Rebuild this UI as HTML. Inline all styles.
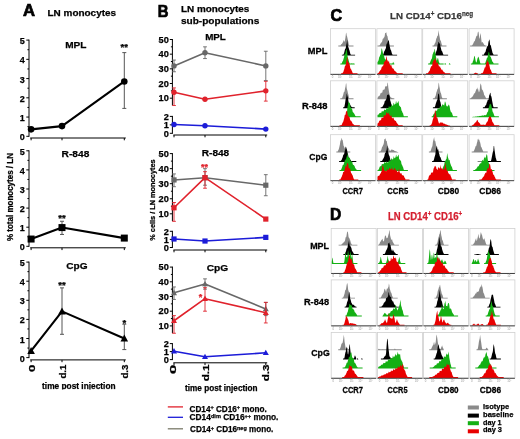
<!DOCTYPE html>
<html><head><meta charset="utf-8"><style>
html,body{margin:0;padding:0;background:#fff;width:520px;height:439px;overflow:hidden}
svg{display:block} #w{will-change:transform;width:520px;height:439px}
text{font-family:"Liberation Sans", sans-serif}
</style></head><body><div id="w"><svg width="520" height="439" viewBox="0 0 520 439" font-family='"Liberation Sans", sans-serif'><text x="23.12" y="16.20" font-size="15.8" fill="#000" stroke="#000" stroke-width="0.7" font-weight="bold" textLength="12.06" lengthAdjust="spacingAndGlyphs" >A</text>
<text x="47.54" y="16.10" font-size="9.6" fill="#000" stroke="#000" stroke-width="0.25" font-weight="bold" textLength="68.52" lengthAdjust="spacingAndGlyphs" >LN monocytes</text>
<line x1="29.00" y1="136.80" x2="29.00" y2="39.60" stroke="#000" stroke-width="1" />
<line x1="26.30" y1="136.30" x2="29.00" y2="136.30" stroke="#000" stroke-width="1" />
<text x="24.70" y="140.30" font-size="9" text-anchor="end" fill="#000" stroke="#000" stroke-width="0.25" font-weight="bold" >0</text>
<line x1="26.30" y1="117.06" x2="29.00" y2="117.06" stroke="#000" stroke-width="1" />
<text x="24.70" y="121.06" font-size="9" text-anchor="end" fill="#000" stroke="#000" stroke-width="0.25" font-weight="bold" >1</text>
<line x1="26.30" y1="97.82" x2="29.00" y2="97.82" stroke="#000" stroke-width="1" />
<text x="24.70" y="101.82" font-size="9" text-anchor="end" fill="#000" stroke="#000" stroke-width="0.25" font-weight="bold" >2</text>
<line x1="26.30" y1="78.58" x2="29.00" y2="78.58" stroke="#000" stroke-width="1" />
<text x="24.70" y="82.58" font-size="9" text-anchor="end" fill="#000" stroke="#000" stroke-width="0.25" font-weight="bold" >3</text>
<line x1="26.30" y1="59.34" x2="29.00" y2="59.34" stroke="#000" stroke-width="1" />
<text x="24.70" y="63.34" font-size="9" text-anchor="end" fill="#000" stroke="#000" stroke-width="0.25" font-weight="bold" >4</text>
<line x1="26.30" y1="40.10" x2="29.00" y2="40.10" stroke="#000" stroke-width="1" />
<text x="24.70" y="44.10" font-size="9" text-anchor="end" fill="#000" stroke="#000" stroke-width="0.25" font-weight="bold" >5</text>
<line x1="27.40" y1="126.68" x2="29.00" y2="126.68" stroke="#000" stroke-width="1" />
<line x1="27.40" y1="107.44" x2="29.00" y2="107.44" stroke="#000" stroke-width="1" />
<line x1="27.40" y1="88.20" x2="29.00" y2="88.20" stroke="#000" stroke-width="1" />
<line x1="27.40" y1="68.96" x2="29.00" y2="68.96" stroke="#000" stroke-width="1" />
<line x1="27.40" y1="49.72" x2="29.00" y2="49.72" stroke="#000" stroke-width="1" />
<line x1="30.20" y1="138.00" x2="125.80" y2="138.00" stroke="#000" stroke-width="1" />
<line x1="31.10" y1="138.00" x2="31.10" y2="140.30" stroke="#000" stroke-width="1" />
<line x1="62.00" y1="138.00" x2="62.00" y2="140.30" stroke="#000" stroke-width="1" />
<line x1="124.30" y1="138.00" x2="124.30" y2="140.30" stroke="#000" stroke-width="1" />
<line x1="124.30" y1="52.61" x2="124.30" y2="108.40" stroke="#555" stroke-width="1" />
<line x1="122.30" y1="52.61" x2="126.30" y2="52.61" stroke="#555" stroke-width="1" />
<line x1="122.30" y1="108.40" x2="126.30" y2="108.40" stroke="#555" stroke-width="1" />
<polyline points="31.10,129.37 62.00,126.10 124.30,81.47" fill="none" stroke="#000" stroke-width="2.1" stroke-linejoin="round"/>
<circle cx="31.10" cy="129.37" r="3.3" fill="#000"/>
<circle cx="62.00" cy="126.10" r="3.3" fill="#000"/>
<circle cx="124.30" cy="81.47" r="3.3" fill="#000"/>
<text x="124.30" y="50.21" font-size="9.5" text-anchor="middle" fill="#000" stroke="#000" stroke-width="0.25" font-weight="bold" >**</text>
<text x="65.23" y="47.70" font-size="9.8" fill="#000" stroke="#000" stroke-width="0.25" font-weight="bold" textLength="21.23" lengthAdjust="spacingAndGlyphs" >MPL</text>
<line x1="29.00" y1="246.80" x2="29.00" y2="150.30" stroke="#000" stroke-width="1" />
<line x1="26.30" y1="246.30" x2="29.00" y2="246.30" stroke="#000" stroke-width="1" />
<text x="24.70" y="250.30" font-size="9" text-anchor="end" fill="#000" stroke="#000" stroke-width="0.25" font-weight="bold" >0</text>
<line x1="26.30" y1="227.20" x2="29.00" y2="227.20" stroke="#000" stroke-width="1" />
<text x="24.70" y="231.20" font-size="9" text-anchor="end" fill="#000" stroke="#000" stroke-width="0.25" font-weight="bold" >1</text>
<line x1="26.30" y1="208.10" x2="29.00" y2="208.10" stroke="#000" stroke-width="1" />
<text x="24.70" y="212.10" font-size="9" text-anchor="end" fill="#000" stroke="#000" stroke-width="0.25" font-weight="bold" >2</text>
<line x1="26.30" y1="189.00" x2="29.00" y2="189.00" stroke="#000" stroke-width="1" />
<text x="24.70" y="193.00" font-size="9" text-anchor="end" fill="#000" stroke="#000" stroke-width="0.25" font-weight="bold" >3</text>
<line x1="26.30" y1="169.90" x2="29.00" y2="169.90" stroke="#000" stroke-width="1" />
<text x="24.70" y="173.90" font-size="9" text-anchor="end" fill="#000" stroke="#000" stroke-width="0.25" font-weight="bold" >4</text>
<line x1="26.30" y1="150.80" x2="29.00" y2="150.80" stroke="#000" stroke-width="1" />
<text x="24.70" y="154.80" font-size="9" text-anchor="end" fill="#000" stroke="#000" stroke-width="0.25" font-weight="bold" >5</text>
<line x1="27.40" y1="236.75" x2="29.00" y2="236.75" stroke="#000" stroke-width="1" />
<line x1="27.40" y1="217.65" x2="29.00" y2="217.65" stroke="#000" stroke-width="1" />
<line x1="27.40" y1="198.55" x2="29.00" y2="198.55" stroke="#000" stroke-width="1" />
<line x1="27.40" y1="179.45" x2="29.00" y2="179.45" stroke="#000" stroke-width="1" />
<line x1="27.40" y1="160.35" x2="29.00" y2="160.35" stroke="#000" stroke-width="1" />
<line x1="30.20" y1="247.80" x2="125.80" y2="247.80" stroke="#000" stroke-width="1" />
<line x1="31.10" y1="247.80" x2="31.10" y2="250.10" stroke="#000" stroke-width="1" />
<line x1="62.00" y1="247.80" x2="62.00" y2="250.10" stroke="#000" stroke-width="1" />
<line x1="124.30" y1="247.80" x2="124.30" y2="250.10" stroke="#000" stroke-width="1" />
<line x1="62.00" y1="221.28" x2="62.00" y2="234.46" stroke="#555" stroke-width="1" />
<line x1="60.00" y1="221.28" x2="64.00" y2="221.28" stroke="#555" stroke-width="1" />
<line x1="60.00" y1="234.46" x2="64.00" y2="234.46" stroke="#555" stroke-width="1" />
<polyline points="31.10,239.04 62.00,227.58 124.30,238.09" fill="none" stroke="#000" stroke-width="2.1" stroke-linejoin="round"/>
<rect x="27.60" y="235.54" width="7" height="7" fill="#000"/>
<rect x="58.50" y="224.08" width="7" height="7" fill="#000"/>
<rect x="120.80" y="234.59" width="7" height="7" fill="#000"/>
<text x="62.00" y="221.01" font-size="9.5" text-anchor="middle" fill="#000" stroke="#000" stroke-width="0.25" font-weight="bold" >**</text>
<text x="61.63" y="157.00" font-size="9.9" fill="#000" stroke="#000" stroke-width="0.25" font-weight="bold" textLength="27.74" lengthAdjust="spacingAndGlyphs" >R-848</text>
<line x1="29.00" y1="358.10" x2="29.00" y2="261.60" stroke="#000" stroke-width="1" />
<line x1="26.30" y1="357.60" x2="29.00" y2="357.60" stroke="#000" stroke-width="1" />
<text x="24.70" y="361.60" font-size="9" text-anchor="end" fill="#000" stroke="#000" stroke-width="0.25" font-weight="bold" >0</text>
<line x1="26.30" y1="338.50" x2="29.00" y2="338.50" stroke="#000" stroke-width="1" />
<text x="24.70" y="342.50" font-size="9" text-anchor="end" fill="#000" stroke="#000" stroke-width="0.25" font-weight="bold" >1</text>
<line x1="26.30" y1="319.40" x2="29.00" y2="319.40" stroke="#000" stroke-width="1" />
<text x="24.70" y="323.40" font-size="9" text-anchor="end" fill="#000" stroke="#000" stroke-width="0.25" font-weight="bold" >2</text>
<line x1="26.30" y1="300.30" x2="29.00" y2="300.30" stroke="#000" stroke-width="1" />
<text x="24.70" y="304.30" font-size="9" text-anchor="end" fill="#000" stroke="#000" stroke-width="0.25" font-weight="bold" >3</text>
<line x1="26.30" y1="281.20" x2="29.00" y2="281.20" stroke="#000" stroke-width="1" />
<text x="24.70" y="285.20" font-size="9" text-anchor="end" fill="#000" stroke="#000" stroke-width="0.25" font-weight="bold" >4</text>
<line x1="26.30" y1="262.10" x2="29.00" y2="262.10" stroke="#000" stroke-width="1" />
<text x="24.70" y="266.10" font-size="9" text-anchor="end" fill="#000" stroke="#000" stroke-width="0.25" font-weight="bold" >5</text>
<line x1="27.40" y1="348.05" x2="29.00" y2="348.05" stroke="#000" stroke-width="1" />
<line x1="27.40" y1="328.95" x2="29.00" y2="328.95" stroke="#000" stroke-width="1" />
<line x1="27.40" y1="309.85" x2="29.00" y2="309.85" stroke="#000" stroke-width="1" />
<line x1="27.40" y1="290.75" x2="29.00" y2="290.75" stroke="#000" stroke-width="1" />
<line x1="27.40" y1="271.65" x2="29.00" y2="271.65" stroke="#000" stroke-width="1" />
<line x1="30.20" y1="359.90" x2="125.80" y2="359.90" stroke="#000" stroke-width="1" />
<line x1="31.10" y1="359.90" x2="31.10" y2="362.20" stroke="#000" stroke-width="1" />
<line x1="62.00" y1="359.90" x2="62.00" y2="362.20" stroke="#000" stroke-width="1" />
<line x1="124.30" y1="359.90" x2="124.30" y2="362.20" stroke="#000" stroke-width="1" />
<line x1="62.00" y1="287.88" x2="62.00" y2="334.30" stroke="#555" stroke-width="1" />
<line x1="60.00" y1="287.88" x2="64.00" y2="287.88" stroke="#555" stroke-width="1" />
<line x1="60.00" y1="334.30" x2="64.00" y2="334.30" stroke="#555" stroke-width="1" />
<line x1="124.30" y1="324.18" x2="124.30" y2="349.58" stroke="#555" stroke-width="1" />
<line x1="122.30" y1="324.18" x2="126.30" y2="324.18" stroke="#555" stroke-width="1" />
<line x1="122.30" y1="349.58" x2="126.30" y2="349.58" stroke="#555" stroke-width="1" />
<polyline points="31.10,350.92 62.00,311.38 124.30,338.50" fill="none" stroke="#000" stroke-width="2.1" stroke-linejoin="round"/>
<polygon points="27.30,353.92 34.90,353.92 31.10,347.02" fill="#000"/>
<polygon points="58.20,314.38 65.80,314.38 62.00,307.48" fill="#000"/>
<polygon points="120.50,341.50 128.10,341.50 124.30,334.60" fill="#000"/>
<text x="62.00" y="287.71" font-size="9.5" text-anchor="middle" fill="#000" stroke="#000" stroke-width="0.25" font-weight="bold" >**</text>
<text x="124.30" y="326.01" font-size="9.5" text-anchor="middle" fill="#000" stroke="#000" stroke-width="0.25" font-weight="bold" >*</text>
<text x="66.23" y="269.20" font-size="9.9" fill="#000" stroke="#000" stroke-width="0.25" font-weight="bold" textLength="21.34" lengthAdjust="spacingAndGlyphs" >CpG</text>
<text x="0" y="0" font-size="8.3" fill="#000" stroke="#000" stroke-width="0.25" font-weight="bold" textLength="87.96" lengthAdjust="spacingAndGlyphs" transform="translate(12.60,241.03) rotate(-90)">% total monocytes / LN</text>
<text x="0" y="0" font-size="9.2" fill="#000" stroke="#000" stroke-width="0.25" font-weight="bold" textLength="7.34" lengthAdjust="spacingAndGlyphs" transform="translate(35.00,371.97) rotate(-90)">0</text>
<text x="0" y="0" font-size="9.2" fill="#000" stroke="#000" stroke-width="0.25" font-weight="bold" textLength="13.94" lengthAdjust="spacingAndGlyphs" transform="translate(65.80,378.57) rotate(-90)">d.1</text>
<text x="0" y="0" font-size="9.2" fill="#000" stroke="#000" stroke-width="0.25" font-weight="bold" textLength="13.94" lengthAdjust="spacingAndGlyphs" transform="translate(127.90,378.57) rotate(-90)">d.3</text>
<clipPath id="ca"><rect x="0" y="370" width="150" height="19.6"/></clipPath>
<g clip-path="url(#ca)">
<text x="42.09" y="389.30" font-size="8.4" fill="#000" stroke="#000" stroke-width="0.25" font-weight="bold" textLength="73.52" lengthAdjust="spacingAndGlyphs" >time post injection</text>
</g>
<text x="157.72" y="17.20" font-size="15.8" fill="#000" stroke="#000" stroke-width="0.7" font-weight="bold" textLength="10.76" lengthAdjust="spacingAndGlyphs" >B</text>
<text x="180.94" y="11.70" font-size="9.6" fill="#000" stroke="#000" stroke-width="0.25" font-weight="bold" textLength="68.32" lengthAdjust="spacingAndGlyphs" >LN monocytes</text>
<text x="180.93" y="23.70" font-size="9.9" fill="#000" stroke="#000" stroke-width="0.25" font-weight="bold" textLength="78.44" lengthAdjust="spacingAndGlyphs" >sub-populations</text>
<line x1="172.40" y1="39.00" x2="172.40" y2="105.38" stroke="#000" stroke-width="1" />
<line x1="169.80" y1="39.50" x2="172.40" y2="39.50" stroke="#000" stroke-width="1" />
<text x="168.80" y="42.70" font-size="9.2" text-anchor="end" fill="#000" stroke="#000" stroke-width="0.25" font-weight="bold" >50</text>
<line x1="169.80" y1="54.17" x2="172.40" y2="54.17" stroke="#000" stroke-width="1" />
<text x="168.80" y="57.37" font-size="9.2" text-anchor="end" fill="#000" stroke="#000" stroke-width="0.25" font-weight="bold" >40</text>
<line x1="169.80" y1="68.84" x2="172.40" y2="68.84" stroke="#000" stroke-width="1" />
<text x="168.80" y="72.04" font-size="9.2" text-anchor="end" fill="#000" stroke="#000" stroke-width="0.25" font-weight="bold" >30</text>
<line x1="169.80" y1="83.51" x2="172.40" y2="83.51" stroke="#000" stroke-width="1" />
<text x="168.80" y="86.71" font-size="9.2" text-anchor="end" fill="#000" stroke="#000" stroke-width="0.25" font-weight="bold" >20</text>
<line x1="169.80" y1="98.18" x2="172.40" y2="98.18" stroke="#000" stroke-width="1" />
<text x="168.80" y="101.38" font-size="9.2" text-anchor="end" fill="#000" stroke="#000" stroke-width="0.25" font-weight="bold" >10</text>
<line x1="170.90" y1="46.84" x2="172.40" y2="46.84" stroke="#000" stroke-width="1" />
<line x1="170.90" y1="61.50" x2="172.40" y2="61.50" stroke="#000" stroke-width="1" />
<line x1="170.90" y1="76.17" x2="172.40" y2="76.17" stroke="#000" stroke-width="1" />
<line x1="170.90" y1="90.84" x2="172.40" y2="90.84" stroke="#000" stroke-width="1" />
<line x1="172.40" y1="133.80" x2="172.40" y2="115.90" stroke="#000" stroke-width="1" />
<line x1="169.80" y1="133.30" x2="172.40" y2="133.30" stroke="#000" stroke-width="1" />
<text x="168.80" y="136.50" font-size="9.2" text-anchor="end" fill="#000" stroke="#000" stroke-width="0.25" font-weight="bold" >0</text>
<line x1="169.80" y1="124.85" x2="172.40" y2="124.85" stroke="#000" stroke-width="1" />
<text x="168.80" y="128.05" font-size="9.2" text-anchor="end" fill="#000" stroke="#000" stroke-width="0.25" font-weight="bold" >1</text>
<line x1="169.80" y1="116.40" x2="172.40" y2="116.40" stroke="#000" stroke-width="1" />
<text x="168.80" y="119.60" font-size="9.2" text-anchor="end" fill="#000" stroke="#000" stroke-width="0.25" font-weight="bold" >2</text>
<line x1="173.40" y1="135.00" x2="267.20" y2="135.00" stroke="#000" stroke-width="1" />
<line x1="174.00" y1="135.00" x2="174.00" y2="137.30" stroke="#000" stroke-width="1" />
<line x1="205.00" y1="135.00" x2="205.00" y2="137.30" stroke="#000" stroke-width="1" />
<line x1="265.80" y1="135.00" x2="265.80" y2="137.30" stroke="#000" stroke-width="1" />
<line x1="174.00" y1="60.04" x2="174.00" y2="71.77" stroke="#686868" stroke-width="0.9" />
<line x1="172.10" y1="60.04" x2="175.90" y2="60.04" stroke="#686868" stroke-width="0.9" />
<line x1="172.10" y1="71.77" x2="175.90" y2="71.77" stroke="#686868" stroke-width="0.9" />
<line x1="205.00" y1="46.84" x2="205.00" y2="58.57" stroke="#686868" stroke-width="0.9" />
<line x1="203.10" y1="46.84" x2="206.90" y2="46.84" stroke="#686868" stroke-width="0.9" />
<line x1="203.10" y1="58.57" x2="206.90" y2="58.57" stroke="#686868" stroke-width="0.9" />
<line x1="265.80" y1="51.24" x2="265.80" y2="80.58" stroke="#686868" stroke-width="0.9" />
<line x1="263.90" y1="51.24" x2="267.70" y2="51.24" stroke="#686868" stroke-width="0.9" />
<line x1="263.90" y1="80.58" x2="267.70" y2="80.58" stroke="#686868" stroke-width="0.9" />
<polyline points="174.00,65.91 205.00,52.70 265.80,65.91" fill="none" stroke="#686868" stroke-width="1.6" stroke-linejoin="round"/>
<circle cx="174.00" cy="65.91" r="2.7" fill="#686868"/>
<circle cx="205.00" cy="52.70" r="2.7" fill="#686868"/>
<circle cx="265.80" cy="65.91" r="2.7" fill="#686868"/>
<line x1="174.00" y1="87.91" x2="174.00" y2="105.52" stroke="#e0222c" stroke-width="0.9" />
<line x1="172.10" y1="87.91" x2="175.90" y2="87.91" stroke="#e0222c" stroke-width="0.9" />
<line x1="172.10" y1="105.52" x2="175.90" y2="105.52" stroke="#e0222c" stroke-width="0.9" />
<line x1="265.80" y1="81.31" x2="265.80" y2="101.11" stroke="#e0222c" stroke-width="0.9" />
<line x1="263.90" y1="81.31" x2="267.70" y2="81.31" stroke="#e0222c" stroke-width="0.9" />
<line x1="263.90" y1="101.11" x2="267.70" y2="101.11" stroke="#e0222c" stroke-width="0.9" />
<polyline points="174.00,92.31 205.00,99.21 265.80,90.85" fill="none" stroke="#e0222c" stroke-width="1.6" stroke-linejoin="round"/>
<circle cx="174.00" cy="92.31" r="2.7" fill="#e0222c"/>
<circle cx="205.00" cy="99.21" r="2.7" fill="#e0222c"/>
<circle cx="265.80" cy="90.85" r="2.7" fill="#e0222c"/>
<polyline points="174.00,124.43 205.00,125.70 265.80,129.08" fill="none" stroke="#1c1cd8" stroke-width="1.6" stroke-linejoin="round"/>
<circle cx="174.00" cy="124.43" r="2.7" fill="#1c1cd8"/>
<circle cx="205.00" cy="125.70" r="2.7" fill="#1c1cd8"/>
<circle cx="265.80" cy="129.08" r="2.7" fill="#1c1cd8"/>
<text x="205.13" y="40.00" font-size="9.8" fill="#000" stroke="#000" stroke-width="0.25" font-weight="bold" textLength="20.73" lengthAdjust="spacingAndGlyphs" >MPL</text>
<line x1="172.40" y1="153.10" x2="172.40" y2="221.00" stroke="#000" stroke-width="1" />
<line x1="169.80" y1="153.60" x2="172.40" y2="153.60" stroke="#000" stroke-width="1" />
<text x="168.80" y="156.80" font-size="9.2" text-anchor="end" fill="#000" stroke="#000" stroke-width="0.25" font-weight="bold" >50</text>
<line x1="169.80" y1="168.65" x2="172.40" y2="168.65" stroke="#000" stroke-width="1" />
<text x="168.80" y="171.85" font-size="9.2" text-anchor="end" fill="#000" stroke="#000" stroke-width="0.25" font-weight="bold" >40</text>
<line x1="169.80" y1="183.70" x2="172.40" y2="183.70" stroke="#000" stroke-width="1" />
<text x="168.80" y="186.90" font-size="9.2" text-anchor="end" fill="#000" stroke="#000" stroke-width="0.25" font-weight="bold" >30</text>
<line x1="169.80" y1="198.75" x2="172.40" y2="198.75" stroke="#000" stroke-width="1" />
<text x="168.80" y="201.95" font-size="9.2" text-anchor="end" fill="#000" stroke="#000" stroke-width="0.25" font-weight="bold" >20</text>
<line x1="169.80" y1="213.80" x2="172.40" y2="213.80" stroke="#000" stroke-width="1" />
<text x="168.80" y="217.00" font-size="9.2" text-anchor="end" fill="#000" stroke="#000" stroke-width="0.25" font-weight="bold" >10</text>
<line x1="170.90" y1="161.12" x2="172.40" y2="161.12" stroke="#000" stroke-width="1" />
<line x1="170.90" y1="176.18" x2="172.40" y2="176.18" stroke="#000" stroke-width="1" />
<line x1="170.90" y1="191.22" x2="172.40" y2="191.22" stroke="#000" stroke-width="1" />
<line x1="170.90" y1="206.28" x2="172.40" y2="206.28" stroke="#000" stroke-width="1" />
<line x1="172.40" y1="248.00" x2="172.40" y2="230.80" stroke="#000" stroke-width="1" />
<line x1="169.80" y1="247.50" x2="172.40" y2="247.50" stroke="#000" stroke-width="1" />
<text x="168.80" y="250.70" font-size="9.2" text-anchor="end" fill="#000" stroke="#000" stroke-width="0.25" font-weight="bold" >0</text>
<line x1="169.80" y1="239.40" x2="172.40" y2="239.40" stroke="#000" stroke-width="1" />
<text x="168.80" y="242.60" font-size="9.2" text-anchor="end" fill="#000" stroke="#000" stroke-width="0.25" font-weight="bold" >1</text>
<line x1="169.80" y1="231.30" x2="172.40" y2="231.30" stroke="#000" stroke-width="1" />
<text x="168.80" y="234.50" font-size="9.2" text-anchor="end" fill="#000" stroke="#000" stroke-width="0.25" font-weight="bold" >2</text>
<line x1="173.40" y1="250.00" x2="267.20" y2="250.00" stroke="#000" stroke-width="1" />
<line x1="174.00" y1="250.00" x2="174.00" y2="252.30" stroke="#000" stroke-width="1" />
<line x1="205.00" y1="250.00" x2="205.00" y2="252.30" stroke="#000" stroke-width="1" />
<line x1="265.80" y1="250.00" x2="265.80" y2="252.30" stroke="#000" stroke-width="1" />
<line x1="174.00" y1="173.92" x2="174.00" y2="186.71" stroke="#686868" stroke-width="0.9" />
<line x1="172.10" y1="173.92" x2="175.90" y2="173.92" stroke="#686868" stroke-width="0.9" />
<line x1="172.10" y1="186.71" x2="175.90" y2="186.71" stroke="#686868" stroke-width="0.9" />
<line x1="205.00" y1="168.65" x2="205.00" y2="185.21" stroke="#686868" stroke-width="0.9" />
<line x1="203.10" y1="168.65" x2="206.90" y2="168.65" stroke="#686868" stroke-width="0.9" />
<line x1="203.10" y1="185.21" x2="206.90" y2="185.21" stroke="#686868" stroke-width="0.9" />
<line x1="265.80" y1="174.67" x2="265.80" y2="195.74" stroke="#686868" stroke-width="0.9" />
<line x1="263.90" y1="174.67" x2="267.70" y2="174.67" stroke="#686868" stroke-width="0.9" />
<line x1="263.90" y1="195.74" x2="267.70" y2="195.74" stroke="#686868" stroke-width="0.9" />
<polyline points="174.00,179.94 205.00,177.68 265.80,185.21" fill="none" stroke="#686868" stroke-width="1.6" stroke-linejoin="round"/>
<rect x="171.40" y="177.34" width="5.2" height="5.2" fill="#686868"/>
<rect x="202.40" y="175.08" width="5.2" height="5.2" fill="#686868"/>
<rect x="263.20" y="182.61" width="5.2" height="5.2" fill="#686868"/>
<line x1="174.00" y1="202.51" x2="174.00" y2="221.33" stroke="#e0222c" stroke-width="0.9" />
<line x1="172.10" y1="202.51" x2="175.90" y2="202.51" stroke="#e0222c" stroke-width="0.9" />
<line x1="172.10" y1="221.33" x2="175.90" y2="221.33" stroke="#e0222c" stroke-width="0.9" />
<line x1="205.00" y1="171.66" x2="205.00" y2="188.22" stroke="#e0222c" stroke-width="0.9" />
<line x1="203.10" y1="171.66" x2="206.90" y2="171.66" stroke="#e0222c" stroke-width="0.9" />
<line x1="203.10" y1="188.22" x2="206.90" y2="188.22" stroke="#e0222c" stroke-width="0.9" />
<polyline points="174.00,207.78 205.00,177.68 265.80,219.07" fill="none" stroke="#e0222c" stroke-width="1.6" stroke-linejoin="round"/>
<rect x="171.40" y="205.18" width="5.2" height="5.2" fill="#e0222c"/>
<rect x="202.40" y="175.08" width="5.2" height="5.2" fill="#e0222c"/>
<rect x="263.20" y="216.47" width="5.2" height="5.2" fill="#e0222c"/>
<polyline points="174.00,239.00 205.00,241.02 265.80,237.38" fill="none" stroke="#1c1cd8" stroke-width="1.6" stroke-linejoin="round"/>
<rect x="171.40" y="236.40" width="5.2" height="5.2" fill="#1c1cd8"/>
<rect x="202.40" y="238.42" width="5.2" height="5.2" fill="#1c1cd8"/>
<rect x="263.20" y="234.78" width="5.2" height="5.2" fill="#1c1cd8"/>
<text x="204.50" y="170.22" font-size="9" text-anchor="middle" fill="#e0222c" stroke="#e0222c" stroke-width="0.25" font-weight="bold" >**</text>
<text x="201.73" y="156.30" font-size="9.8" fill="#000" stroke="#000" stroke-width="0.25" font-weight="bold" textLength="27.53" lengthAdjust="spacingAndGlyphs" >R-848</text>
<line x1="172.40" y1="266.60" x2="172.40" y2="333.10" stroke="#000" stroke-width="1" />
<line x1="169.80" y1="267.10" x2="172.40" y2="267.10" stroke="#000" stroke-width="1" />
<text x="168.80" y="270.30" font-size="9.2" text-anchor="end" fill="#000" stroke="#000" stroke-width="0.25" font-weight="bold" >50</text>
<line x1="169.80" y1="281.80" x2="172.40" y2="281.80" stroke="#000" stroke-width="1" />
<text x="168.80" y="285.00" font-size="9.2" text-anchor="end" fill="#000" stroke="#000" stroke-width="0.25" font-weight="bold" >40</text>
<line x1="169.80" y1="296.50" x2="172.40" y2="296.50" stroke="#000" stroke-width="1" />
<text x="168.80" y="299.70" font-size="9.2" text-anchor="end" fill="#000" stroke="#000" stroke-width="0.25" font-weight="bold" >30</text>
<line x1="169.80" y1="311.20" x2="172.40" y2="311.20" stroke="#000" stroke-width="1" />
<text x="168.80" y="314.40" font-size="9.2" text-anchor="end" fill="#000" stroke="#000" stroke-width="0.25" font-weight="bold" >20</text>
<line x1="169.80" y1="325.90" x2="172.40" y2="325.90" stroke="#000" stroke-width="1" />
<text x="168.80" y="329.10" font-size="9.2" text-anchor="end" fill="#000" stroke="#000" stroke-width="0.25" font-weight="bold" >10</text>
<line x1="170.90" y1="274.45" x2="172.40" y2="274.45" stroke="#000" stroke-width="1" />
<line x1="170.90" y1="289.15" x2="172.40" y2="289.15" stroke="#000" stroke-width="1" />
<line x1="170.90" y1="303.85" x2="172.40" y2="303.85" stroke="#000" stroke-width="1" />
<line x1="170.90" y1="318.55" x2="172.40" y2="318.55" stroke="#000" stroke-width="1" />
<line x1="172.40" y1="360.10" x2="172.40" y2="343.10" stroke="#000" stroke-width="1" />
<line x1="169.80" y1="359.60" x2="172.40" y2="359.60" stroke="#000" stroke-width="1" />
<text x="168.80" y="362.80" font-size="9.2" text-anchor="end" fill="#000" stroke="#000" stroke-width="0.25" font-weight="bold" >0</text>
<line x1="169.80" y1="351.60" x2="172.40" y2="351.60" stroke="#000" stroke-width="1" />
<text x="168.80" y="354.80" font-size="9.2" text-anchor="end" fill="#000" stroke="#000" stroke-width="0.25" font-weight="bold" >1</text>
<line x1="169.80" y1="343.60" x2="172.40" y2="343.60" stroke="#000" stroke-width="1" />
<text x="168.80" y="346.80" font-size="9.2" text-anchor="end" fill="#000" stroke="#000" stroke-width="0.25" font-weight="bold" >2</text>
<line x1="173.40" y1="362.80" x2="267.20" y2="362.80" stroke="#000" stroke-width="1" />
<line x1="174.00" y1="362.80" x2="174.00" y2="365.10" stroke="#000" stroke-width="1" />
<line x1="205.00" y1="362.80" x2="205.00" y2="365.10" stroke="#000" stroke-width="1" />
<line x1="265.80" y1="362.80" x2="265.80" y2="365.10" stroke="#000" stroke-width="1" />
<line x1="174.00" y1="286.95" x2="174.00" y2="299.44" stroke="#686868" stroke-width="0.9" />
<line x1="172.10" y1="286.95" x2="175.90" y2="286.95" stroke="#686868" stroke-width="0.9" />
<line x1="172.10" y1="299.44" x2="175.90" y2="299.44" stroke="#686868" stroke-width="0.9" />
<line x1="205.00" y1="278.86" x2="205.00" y2="289.15" stroke="#686868" stroke-width="0.9" />
<line x1="203.10" y1="278.86" x2="206.90" y2="278.86" stroke="#686868" stroke-width="0.9" />
<line x1="203.10" y1="289.15" x2="206.90" y2="289.15" stroke="#686868" stroke-width="0.9" />
<line x1="265.80" y1="302.38" x2="265.80" y2="315.61" stroke="#686868" stroke-width="0.9" />
<line x1="263.90" y1="302.38" x2="267.70" y2="302.38" stroke="#686868" stroke-width="0.9" />
<line x1="263.90" y1="315.61" x2="267.70" y2="315.61" stroke="#686868" stroke-width="0.9" />
<polyline points="174.00,292.83 205.00,284.01 265.80,309.00" fill="none" stroke="#686868" stroke-width="1.6" stroke-linejoin="round"/>
<polygon points="171.00,295.13 177.00,295.13 174.00,289.73" fill="#686868"/>
<polygon points="202.00,286.31 208.00,286.31 205.00,280.91" fill="#686868"/>
<polygon points="262.80,311.30 268.80,311.30 265.80,305.90" fill="#686868"/>
<line x1="174.00" y1="315.61" x2="174.00" y2="333.25" stroke="#e0222c" stroke-width="0.9" />
<line x1="172.10" y1="315.61" x2="175.90" y2="315.61" stroke="#e0222c" stroke-width="0.9" />
<line x1="172.10" y1="333.25" x2="175.90" y2="333.25" stroke="#e0222c" stroke-width="0.9" />
<line x1="205.00" y1="287.68" x2="205.00" y2="311.20" stroke="#e0222c" stroke-width="0.9" />
<line x1="203.10" y1="287.68" x2="206.90" y2="287.68" stroke="#e0222c" stroke-width="0.9" />
<line x1="203.10" y1="311.20" x2="206.90" y2="311.20" stroke="#e0222c" stroke-width="0.9" />
<line x1="265.80" y1="302.38" x2="265.80" y2="322.96" stroke="#e0222c" stroke-width="0.9" />
<line x1="263.90" y1="302.38" x2="267.70" y2="302.38" stroke="#e0222c" stroke-width="0.9" />
<line x1="263.90" y1="322.96" x2="267.70" y2="322.96" stroke="#e0222c" stroke-width="0.9" />
<polyline points="174.00,320.76 205.00,298.71 265.80,312.67" fill="none" stroke="#e0222c" stroke-width="1.6" stroke-linejoin="round"/>
<polygon points="171.00,323.06 177.00,323.06 174.00,317.66" fill="#e0222c"/>
<polygon points="202.00,301.01 208.00,301.01 205.00,295.61" fill="#e0222c"/>
<polygon points="262.80,314.97 268.80,314.97 265.80,309.57" fill="#e0222c"/>
<polyline points="174.00,351.20 205.00,356.80 265.80,352.80" fill="none" stroke="#1c1cd8" stroke-width="1.6" stroke-linejoin="round"/>
<polygon points="171.00,353.50 177.00,353.50 174.00,348.10" fill="#1c1cd8"/>
<polygon points="202.00,359.10 208.00,359.10 205.00,353.70" fill="#1c1cd8"/>
<polygon points="262.80,355.10 268.80,355.10 265.80,349.70" fill="#1c1cd8"/>
<text x="200.60" y="300.22" font-size="9" text-anchor="middle" fill="#e0222c" stroke="#e0222c" stroke-width="0.25" font-weight="bold" >*</text>
<text x="206.73" y="271.00" font-size="9.8" fill="#000" stroke="#000" stroke-width="0.25" font-weight="bold" textLength="21.53" lengthAdjust="spacingAndGlyphs" >CpG</text>
<text x="0" y="0" font-size="7.0" fill="#000" stroke="#000" stroke-width="0.25" font-weight="bold" textLength="81.26" lengthAdjust="spacingAndGlyphs" transform="translate(154.60,240.68) rotate(-90)">% cells / LN monocytes</text>
<text x="0" y="0" font-size="9.2" fill="#000" stroke="#000" stroke-width="0.25" font-weight="bold" textLength="9.34" lengthAdjust="spacingAndGlyphs" transform="translate(175.90,373.97) rotate(-90)">0</text>
<text x="0" y="0" font-size="9.2" fill="#000" stroke="#000" stroke-width="0.25" font-weight="bold" textLength="16.74" lengthAdjust="spacingAndGlyphs" transform="translate(208.80,381.37) rotate(-90)">d.1</text>
<text x="0" y="0" font-size="9.2" fill="#000" stroke="#000" stroke-width="0.25" font-weight="bold" textLength="16.74" lengthAdjust="spacingAndGlyphs" transform="translate(269.40,381.37) rotate(-90)">d.3</text>
<text x="185.09" y="391.30" font-size="8.4" fill="#000" stroke="#000" stroke-width="0.25" font-weight="bold" textLength="72.42" lengthAdjust="spacingAndGlyphs" >time post injection</text>
<line x1="167.80" y1="406.90" x2="183.00" y2="406.90" stroke="#e0222c" stroke-width="1.3" />
<line x1="167.80" y1="417.30" x2="183.00" y2="417.30" stroke="#1c1cd8" stroke-width="1.3" />
<line x1="167.80" y1="428.80" x2="183.00" y2="428.80" stroke="#7a7a6a" stroke-width="1.3" />
<text x="189.56" y="411.50" font-size="8.6" font-weight="bold" fill="#000" stroke="#000" stroke-width="0.25" textLength="77.29" lengthAdjust="spacingAndGlyphs">CD14<tspan font-size="5.8" dy="-2.58">+</tspan><tspan dy="2.58"> CD16</tspan><tspan font-size="5.8" dy="-2.58">+</tspan><tspan dy="2.58"> mono.</tspan></text>
<text x="189.56" y="420.30" font-size="8.6" font-weight="bold" fill="#000" stroke="#000" stroke-width="0.25" textLength="88.89" lengthAdjust="spacingAndGlyphs">CD14<tspan font-size="5.8" dy="-2.58">dim</tspan><tspan dy="2.58"> CD16</tspan><tspan font-size="5.8" dy="-2.58">++</tspan><tspan dy="2.58"> mono.</tspan></text>
<text x="190.06" y="432.30" font-size="8.6" font-weight="bold" fill="#000" stroke="#000" stroke-width="0.25" textLength="83.29" lengthAdjust="spacingAndGlyphs">CD14<tspan font-size="5.8" dy="-2.58">+</tspan><tspan dy="2.58"> CD16</tspan><tspan font-size="5.8" dy="-2.58">neg</tspan><tspan dy="2.58"> mono.</tspan></text>
<text x="330.62" y="20.60" font-size="15.8" fill="#000" stroke="#000" stroke-width="0.7" font-weight="bold" textLength="11.66" lengthAdjust="spacingAndGlyphs" >C</text>
<text x="390.10" y="19.00" font-size="9.9" font-weight="bold" fill="#383838" stroke="#383838" stroke-width="0.25" textLength="82.99" lengthAdjust="spacingAndGlyphs">LN CD14<tspan font-size="6.4" dy="-2.97">+</tspan><tspan dy="2.97"> CD16</tspan><tspan font-size="6.4" dy="-2.97">neg</tspan></text>
<text x="329.92" y="220.20" font-size="15.8" fill="#000" stroke="#000" stroke-width="0.7" font-weight="bold" textLength="11.26" lengthAdjust="spacingAndGlyphs" >D</text>
<text x="387.88" y="219.60" font-size="10.4" font-weight="bold" fill="#d42030" stroke="#d42030" stroke-width="0.25" textLength="74.33" lengthAdjust="spacingAndGlyphs">LN CD14<tspan font-size="6.8" dy="-3.12">+</tspan><tspan dy="3.12"> CD16</tspan><tspan font-size="6.8" dy="-3.12">+</tspan></text>
<rect x="330.50" y="28.70" width="45.00" height="45.40" fill="none" stroke="#d0d0d0" stroke-width="0.8"/>
<path d="M338.30,46.40 L338.30,45.50 L338.70,45.50 L339.10,45.50 L339.50,45.50 L339.90,45.50 L340.30,45.50 L340.70,45.19 L341.10,44.51 L341.50,44.07 L341.90,43.99 L342.30,43.30 L342.70,42.55 L343.10,41.89 L343.50,40.60 L343.90,40.33 L344.30,41.82 L344.70,41.57 L345.10,39.41 L345.50,37.20 L345.90,33.66 L346.30,32.50 L346.70,35.58 L347.10,36.53 L347.50,38.32 L347.90,40.25 L348.30,41.74 L348.70,43.90 L349.10,45.40 L349.50,45.50 L349.90,45.50 L350.30,45.50 L350.70,45.50 L351.10,45.50 L351.50,45.50 L351.90,45.50 L352.30,45.50 L352.70,45.50 L353.10,45.50 L353.50,45.50 L353.50,46.40Z " fill="#8a8a8a"/>
<path d="M341.90,55.60 L341.90,54.70 L342.30,54.70 L342.70,54.70 L343.10,54.70 L343.50,54.53 L343.90,53.42 L344.30,52.30 L344.70,50.53 L345.10,49.02 L345.50,48.86 L345.90,47.20 L346.30,44.67 L346.70,43.03 L347.10,39.73 L347.50,42.16 L347.90,46.11 L348.30,47.09 L348.70,47.90 L349.10,49.51 L349.50,50.48 L349.90,52.11 L350.30,53.72 L350.70,54.49 L351.10,54.70 L351.50,54.70 L351.90,54.70 L352.30,54.70 L352.70,54.70 L353.10,54.70 L353.50,54.70 L353.90,54.70 L354.30,54.70 L354.70,54.70 L355.10,54.70 L355.10,55.60Z " fill="#000"/>
<path d="M340.30,64.50 L340.30,63.60 L340.70,63.60 L341.10,63.60 L341.50,63.60 L341.90,62.97 L342.30,61.78 L342.70,61.14 L343.10,60.55 L343.50,58.93 L343.90,57.64 L344.30,55.88 L344.70,53.58 L345.10,53.79 L345.50,53.41 L345.90,50.40 L346.30,48.74 L346.70,50.25 L347.10,51.82 L347.50,55.81 L347.90,58.05 L348.30,58.95 L348.70,60.62 L349.10,61.96 L349.50,63.23 L349.90,63.60 L350.30,63.60 L350.70,63.60 L351.10,63.60 L351.50,63.60 L351.90,62.95 L352.30,63.51 L352.70,63.60 L353.10,63.60 L353.50,63.60 L353.90,63.15 L354.30,63.47 L354.70,64.09 L354.70,64.50Z " fill="#14b014"/>
<path d="M341.10,74.10 L341.10,73.20 L341.50,73.20 L341.90,73.20 L342.30,73.20 L342.70,72.85 L343.10,72.29 L343.50,71.39 L343.90,70.04 L344.30,68.92 L344.70,66.97 L345.10,65.58 L345.50,65.86 L345.90,64.22 L346.30,61.73 L346.70,60.27 L347.10,57.02 L347.50,57.49 L347.90,61.64 L348.30,62.04 L348.70,62.26 L349.10,63.65 L349.50,64.00 L349.90,65.83 L350.30,68.20 L350.70,68.63 L351.10,69.22 L351.50,70.25 L351.90,70.91 L352.30,72.01 L352.70,72.96 L353.10,73.20 L353.50,73.20 L353.90,73.20 L354.30,73.20 L354.70,73.20 L355.10,73.20 L355.50,73.20 L355.90,73.20 L356.30,73.20 L356.70,73.20 L357.10,73.20 L357.50,73.20 L357.50,74.10Z " fill="#e80000"/>
<line x1="330.50" y1="74.40" x2="375.50" y2="74.40" stroke="#444" stroke-width="1"/>
<line x1="332.50" y1="74.40" x2="332.50" y2="75.70" stroke="#909090" stroke-width="0.6"/>
<line x1="340.00" y1="74.40" x2="340.00" y2="75.70" stroke="#909090" stroke-width="0.6"/>
<line x1="351.00" y1="74.40" x2="351.00" y2="75.70" stroke="#909090" stroke-width="0.6"/>
<line x1="359.60" y1="74.40" x2="359.60" y2="75.70" stroke="#909090" stroke-width="0.6"/>
<line x1="370.00" y1="74.40" x2="370.00" y2="75.70" stroke="#909090" stroke-width="0.6"/>
<text x="332.50" y="78.10" font-size="2.8" fill="#999" text-anchor="middle">0</text>
<text x="340.00" y="78.10" font-size="2.8" fill="#999" text-anchor="middle">10²</text>
<text x="351.00" y="78.10" font-size="2.8" fill="#999" text-anchor="middle">10³</text>
<text x="359.60" y="78.10" font-size="2.8" fill="#999" text-anchor="middle">10⁴</text>
<text x="370.00" y="78.10" font-size="2.8" fill="#999" text-anchor="middle">10⁵</text>
<rect x="376.90" y="28.70" width="45.00" height="45.40" fill="none" stroke="#d0d0d0" stroke-width="0.8"/>
<path d="M377.50,46.40 L377.50,45.50 L377.90,45.50 L378.30,45.50 L378.70,45.50 L379.10,45.50 L379.50,45.35 L379.90,44.89 L380.30,43.93 L380.70,43.28 L381.10,42.97 L381.50,42.23 L381.90,41.89 L382.30,41.11 L382.70,39.12 L383.10,38.49 L383.50,38.52 L383.90,37.50 L384.30,37.35 L384.70,36.07 L385.10,32.99 L385.50,32.80 L385.90,33.26 L386.30,31.94 L386.70,34.79 L387.10,35.85 L387.50,36.13 L387.90,38.85 L388.30,41.12 L388.70,42.42 L389.10,43.90 L389.50,44.86 L389.90,45.50 L390.30,45.50 L390.70,45.50 L391.10,45.50 L391.50,45.50 L391.90,45.50 L392.30,45.50 L392.70,45.50 L393.10,45.50 L393.50,45.50 L393.90,45.50 L393.90,46.40Z " fill="#8a8a8a"/>
<path d="M381.50,55.60 L381.50,54.70 L381.90,54.70 L382.30,54.70 L382.70,54.70 L383.10,54.44 L383.50,53.80 L383.90,52.49 L384.30,51.29 L384.70,50.84 L385.10,49.75 L385.50,48.88 L385.90,47.92 L386.30,44.96 L386.70,43.41 L387.10,43.74 L387.50,42.21 L387.90,41.33 L388.30,40.73 L388.70,39.85 L389.10,42.15 L389.50,45.60 L389.90,46.92 L390.30,48.66 L390.70,49.91 L391.10,50.39 L391.50,52.00 L391.90,53.44 L392.30,54.23 L392.70,54.70 L393.10,54.70 L393.50,54.70 L393.90,54.70 L394.30,54.70 L394.70,54.70 L395.10,54.70 L395.50,54.70 L395.90,54.70 L396.30,54.70 L396.70,54.70 L397.10,54.70 L397.10,55.60Z " fill="#000"/>
<path d="M377.50,64.50 L377.50,62.35 L377.90,61.44 L378.30,60.91 L378.70,59.70 L379.10,57.52 L379.50,56.73 L379.90,56.09 L380.30,54.78 L380.70,54.57 L381.10,52.32 L381.50,48.60 L381.90,48.44 L382.30,50.34 L382.70,51.79 L383.10,54.28 L383.50,54.51 L383.90,54.65 L384.30,57.07 L384.70,58.74 L385.10,58.83 L385.50,59.81 L385.90,59.75 L386.30,59.83 L386.70,60.95 L387.10,61.63 L387.50,62.08 L387.90,62.65 L388.30,62.82 L388.70,63.14 L389.10,63.60 L389.50,63.60 L389.90,63.60 L390.30,63.60 L390.70,63.60 L391.10,63.60 L391.50,63.60 L391.90,63.60 L392.30,63.58 L392.70,62.94 L393.10,61.77 L393.50,62.62 L393.90,63.59 L394.30,63.60 L394.30,64.50Z " fill="#14b014"/>
<path d="M377.50,74.10 L377.50,73.20 L377.90,73.20 L378.30,73.11 L378.70,72.79 L379.10,72.01 L379.50,71.19 L379.90,70.91 L380.30,70.33 L380.70,69.85 L381.10,69.52 L381.50,67.86 L381.90,66.63 L382.30,66.78 L382.70,66.04 L383.10,65.60 L383.50,65.22 L383.90,62.48 L384.30,61.14 L384.70,61.94 L385.10,60.99 L385.50,60.66 L385.90,60.05 L386.30,56.10 L386.70,56.89 L387.10,59.87 L387.50,60.34 L387.90,61.52 L388.30,62.11 L388.70,60.49 L389.10,61.61 L389.50,63.90 L389.90,64.24 L390.30,65.18 L390.70,65.53 L391.10,64.63 L391.50,65.81 L391.90,67.44 L392.30,67.71 L392.70,68.43 L393.10,68.69 L393.50,68.38 L393.90,69.39 L394.30,70.43 L394.70,70.69 L395.10,71.21 L395.50,71.46 L395.90,71.56 L396.30,72.24 L396.70,72.79 L397.10,73.04 L397.50,73.20 L397.90,73.20 L398.30,73.20 L398.70,73.20 L399.10,73.20 L399.50,73.20 L399.90,73.20 L400.30,73.20 L400.70,73.20 L401.10,73.20 L401.50,73.20 L401.90,73.20 L402.30,73.20 L402.70,73.20 L402.70,74.10Z " fill="#e80000"/>
<line x1="376.90" y1="74.40" x2="421.90" y2="74.40" stroke="#444" stroke-width="1"/>
<line x1="378.90" y1="74.40" x2="378.90" y2="75.70" stroke="#909090" stroke-width="0.6"/>
<line x1="386.40" y1="74.40" x2="386.40" y2="75.70" stroke="#909090" stroke-width="0.6"/>
<line x1="397.40" y1="74.40" x2="397.40" y2="75.70" stroke="#909090" stroke-width="0.6"/>
<line x1="406.00" y1="74.40" x2="406.00" y2="75.70" stroke="#909090" stroke-width="0.6"/>
<line x1="416.40" y1="74.40" x2="416.40" y2="75.70" stroke="#909090" stroke-width="0.6"/>
<text x="378.90" y="78.10" font-size="2.8" fill="#999" text-anchor="middle">0</text>
<text x="386.40" y="78.10" font-size="2.8" fill="#999" text-anchor="middle">10²</text>
<text x="397.40" y="78.10" font-size="2.8" fill="#999" text-anchor="middle">10³</text>
<text x="406.00" y="78.10" font-size="2.8" fill="#999" text-anchor="middle">10⁴</text>
<text x="416.40" y="78.10" font-size="2.8" fill="#999" text-anchor="middle">10⁵</text>
<rect x="422.70" y="28.70" width="45.00" height="45.40" fill="none" stroke="#d0d0d0" stroke-width="0.8"/>
<path d="M432.50,46.40 L432.50,45.50 L432.90,45.50 L433.30,45.50 L433.70,45.50 L434.10,44.92 L434.50,44.17 L434.90,43.19 L435.30,42.69 L435.70,41.62 L436.10,39.33 L436.50,38.23 L436.90,37.43 L437.30,36.04 L437.70,36.07 L438.10,34.17 L438.50,30.08 L438.90,32.91 L439.30,35.49 L439.70,37.18 L440.10,39.67 L440.50,40.54 L440.90,41.10 L441.30,42.86 L441.70,44.22 L442.10,45.23 L442.50,45.50 L442.90,45.50 L443.30,45.50 L443.70,45.50 L444.10,45.50 L444.50,45.50 L444.90,45.50 L445.30,45.50 L445.70,45.50 L446.10,45.50 L446.50,45.50 L446.50,46.40Z " fill="#8a8a8a"/>
<path d="M433.70,55.60 L433.70,54.70 L434.10,54.70 L434.50,54.70 L434.90,54.70 L435.30,53.97 L435.70,53.00 L436.10,51.68 L436.50,50.73 L436.90,49.73 L437.30,46.75 L437.70,44.57 L438.10,43.79 L438.50,41.76 L438.90,42.05 L439.30,43.85 L439.70,42.88 L440.10,44.35 L440.50,46.78 L440.90,48.00 L441.30,49.84 L441.70,50.92 L442.10,51.14 L442.50,52.35 L442.90,53.59 L443.30,54.38 L443.70,54.70 L444.10,54.70 L444.50,54.70 L444.90,54.70 L445.30,54.70 L445.70,54.70 L446.10,54.70 L446.50,54.70 L446.90,54.70 L447.30,54.70 L447.70,54.70 L448.10,54.70 L448.10,55.60Z " fill="#000"/>
<path d="M428.10,64.50 L428.10,63.60 L428.50,63.60 L428.90,63.60 L429.30,63.60 L429.70,63.36 L430.10,62.24 L430.50,61.34 L430.90,60.36 L431.30,59.27 L431.70,59.01 L432.10,57.49 L432.50,54.77 L432.90,53.83 L433.30,52.64 L433.70,51.39 L434.10,51.90 L434.50,49.09 L434.90,49.14 L435.30,52.49 L435.70,54.91 L436.10,57.13 L436.50,59.65 L436.90,60.64 L437.30,59.37 L437.70,58.03 L438.10,58.16 L438.50,60.06 L438.90,61.88 L439.30,62.82 L439.70,63.60 L440.10,63.60 L440.50,63.60 L440.90,63.60 L441.30,63.60 L441.70,63.60 L442.10,63.60 L442.50,63.60 L442.90,63.60 L443.30,63.60 L443.70,63.60 L443.70,64.50Z M444.50,64.50 L444.50,63.82 L444.90,63.27 L445.30,62.92 L445.70,63.65 L446.10,64.19 L446.10,64.50Z M448.90,64.50 L448.90,63.90 L449.30,63.28 L449.70,63.13 L450.10,63.71 L450.50,64.22 L450.50,64.50Z " fill="#14b014"/>
<path d="M426.10,74.10 L426.10,73.20 L426.50,73.20 L426.90,73.20 L427.30,73.20 L427.70,73.20 L428.10,72.69 L428.50,72.15 L428.90,71.41 L429.30,70.88 L429.70,70.66 L430.10,69.28 L430.50,67.83 L430.90,67.34 L431.30,66.26 L431.70,65.93 L432.10,66.00 L432.50,63.41 L432.90,61.38 L433.30,61.24 L433.70,59.92 L434.10,60.05 L434.50,60.26 L434.90,58.14 L435.30,58.03 L435.70,60.08 L436.10,60.62 L436.50,62.48 L436.90,63.73 L437.30,62.18 L437.70,62.55 L438.10,64.23 L438.50,64.75 L438.90,66.19 L439.30,66.93 L439.70,66.00 L440.10,66.62 L440.50,67.88 L440.90,68.35 L441.30,69.38 L441.70,69.83 L442.10,69.47 L442.50,70.11 L442.90,70.95 L443.30,71.36 L443.70,71.99 L444.10,72.30 L444.50,72.37 L444.90,72.84 L445.30,73.20 L445.70,73.20 L446.10,73.20 L446.50,73.20 L446.90,73.20 L447.30,73.20 L447.70,73.20 L448.10,73.20 L448.50,73.20 L448.90,73.20 L449.30,73.20 L449.70,73.20 L450.10,73.20 L450.50,73.20 L450.50,74.10Z " fill="#e80000"/>
<line x1="422.70" y1="74.40" x2="467.70" y2="74.40" stroke="#444" stroke-width="1"/>
<line x1="424.70" y1="74.40" x2="424.70" y2="75.70" stroke="#909090" stroke-width="0.6"/>
<line x1="432.20" y1="74.40" x2="432.20" y2="75.70" stroke="#909090" stroke-width="0.6"/>
<line x1="443.20" y1="74.40" x2="443.20" y2="75.70" stroke="#909090" stroke-width="0.6"/>
<line x1="451.80" y1="74.40" x2="451.80" y2="75.70" stroke="#909090" stroke-width="0.6"/>
<line x1="462.20" y1="74.40" x2="462.20" y2="75.70" stroke="#909090" stroke-width="0.6"/>
<text x="424.70" y="78.10" font-size="2.8" fill="#999" text-anchor="middle">0</text>
<text x="432.20" y="78.10" font-size="2.8" fill="#999" text-anchor="middle">10²</text>
<text x="443.20" y="78.10" font-size="2.8" fill="#999" text-anchor="middle">10³</text>
<text x="451.80" y="78.10" font-size="2.8" fill="#999" text-anchor="middle">10⁴</text>
<text x="462.20" y="78.10" font-size="2.8" fill="#999" text-anchor="middle">10⁵</text>
<rect x="469.10" y="28.70" width="45.00" height="45.40" fill="none" stroke="#d0d0d0" stroke-width="0.8"/>
<path d="M470.10,46.40 L470.10,45.50 L470.50,45.50 L470.90,45.50 L471.30,45.50 L471.70,45.50 L472.10,45.36 L472.50,44.92 L472.90,44.07 L473.30,43.38 L473.70,42.40 L474.10,41.37 L474.50,41.47 L474.90,40.84 L475.30,39.13 L475.70,38.24 L476.10,36.67 L476.50,35.44 L476.90,36.47 L477.30,35.45 L477.70,32.76 L478.10,31.82 L478.50,31.68 L478.90,34.43 L479.30,38.59 L479.70,38.39 L480.10,35.11 L480.50,33.10 L480.90,35.84 L481.30,39.28 L481.70,42.79 L482.10,41.88 L482.50,41.95 L482.90,42.70 L483.30,43.13 L483.70,43.86 L484.10,44.72 L484.50,44.98 L484.90,45.28 L485.30,45.50 L485.70,45.50 L486.10,45.50 L486.50,45.50 L486.50,46.40Z " fill="#8a8a8a"/>
<path d="M482.10,55.60 L482.10,54.70 L482.50,54.70 L482.90,54.70 L483.30,54.70 L483.70,54.70 L484.10,54.08 L484.50,53.27 L484.90,52.39 L485.30,52.15 L485.70,51.20 L486.10,49.35 L486.50,48.39 L486.90,47.11 L487.30,46.03 L487.70,46.57 L488.10,44.85 L488.50,41.68 L488.90,40.83 L489.30,39.21 L489.70,40.81 L490.10,44.72 L490.50,45.28 L490.90,45.54 L491.30,47.71 L491.70,49.20 L492.10,50.90 L492.50,52.69 L492.90,53.43 L493.30,54.25 L493.70,54.70 L494.10,54.70 L494.50,54.70 L494.90,54.70 L495.30,54.70 L495.70,54.70 L496.10,54.70 L496.50,54.70 L496.90,54.70 L497.30,54.70 L497.70,54.70 L497.70,55.60Z " fill="#000"/>
<path d="M470.90,64.50 L470.90,63.60 L471.30,63.60 L471.70,63.60 L472.10,63.60 L472.50,62.66 L472.90,61.32 L473.30,60.59 L473.70,58.90 L474.10,56.54 L474.50,55.70 L474.90,56.88 L475.30,59.01 L475.70,61.31 L476.10,62.35 L476.50,62.46 L476.90,61.14 L477.30,59.19 L477.70,57.84 L478.10,57.40 L478.50,56.59 L478.90,57.77 L479.30,59.57 L479.70,60.86 L480.10,62.52 L480.50,63.60 L480.90,63.60 L481.30,63.60 L481.70,63.60 L482.10,63.60 L482.50,63.60 L482.90,63.60 L483.30,63.60 L483.70,63.60 L484.10,63.60 L484.50,63.60 L484.90,63.58 L485.30,62.99 L485.70,61.77 L486.10,60.58 L486.50,59.53 L486.90,58.07 L487.30,57.76 L487.70,57.09 L488.10,54.15 L488.50,52.38 L488.90,51.87 L489.30,52.77 L489.70,55.45 L490.10,56.73 L490.50,56.22 L490.90,57.27 L491.30,58.50 L491.70,59.38 L492.10,60.91 L492.50,61.64 L492.90,61.88 L493.30,62.67 L493.70,63.38 L494.10,63.60 L494.50,63.60 L494.90,63.60 L495.30,63.60 L495.70,63.60 L496.10,63.60 L496.50,63.60 L496.90,63.60 L497.30,63.60 L497.70,63.60 L498.10,63.60 L498.50,63.60 L498.50,64.50Z " fill="#14b014"/>
<path d="M473.70,74.10 L473.70,73.82 L474.10,73.59 L474.50,73.37 L474.90,73.11 L475.30,72.76 L475.70,72.69 L476.10,72.83 L476.50,72.90 L476.90,73.13 L477.30,73.34 L477.70,73.53 L478.10,73.79 L478.10,74.10Z M480.90,74.10 L480.90,73.20 L481.30,73.20 L481.70,73.20 L482.10,73.20 L482.50,72.90 L482.90,72.47 L483.30,71.76 L483.70,70.43 L484.10,69.49 L484.50,68.33 L484.90,67.21 L485.30,67.39 L485.70,66.11 L486.10,63.44 L486.50,62.41 L486.90,60.83 L487.30,59.69 L487.70,61.53 L488.10,62.05 L488.50,61.70 L488.90,63.67 L489.30,64.96 L489.70,66.63 L490.10,68.88 L490.50,69.43 L490.90,69.96 L491.30,71.23 L491.70,72.16 L492.10,73.06 L492.50,73.20 L492.90,73.20 L493.30,73.20 L493.70,73.20 L494.10,73.20 L494.50,73.20 L494.90,73.20 L495.30,73.20 L495.70,73.20 L496.10,73.20 L496.50,73.20 L496.50,74.10Z " fill="#e80000"/>
<line x1="469.10" y1="74.40" x2="514.10" y2="74.40" stroke="#444" stroke-width="1"/>
<line x1="471.10" y1="74.40" x2="471.10" y2="75.70" stroke="#909090" stroke-width="0.6"/>
<line x1="478.60" y1="74.40" x2="478.60" y2="75.70" stroke="#909090" stroke-width="0.6"/>
<line x1="489.60" y1="74.40" x2="489.60" y2="75.70" stroke="#909090" stroke-width="0.6"/>
<line x1="498.20" y1="74.40" x2="498.20" y2="75.70" stroke="#909090" stroke-width="0.6"/>
<line x1="508.60" y1="74.40" x2="508.60" y2="75.70" stroke="#909090" stroke-width="0.6"/>
<text x="471.10" y="78.10" font-size="2.8" fill="#999" text-anchor="middle">0</text>
<text x="478.60" y="78.10" font-size="2.8" fill="#999" text-anchor="middle">10²</text>
<text x="489.60" y="78.10" font-size="2.8" fill="#999" text-anchor="middle">10³</text>
<text x="498.20" y="78.10" font-size="2.8" fill="#999" text-anchor="middle">10⁴</text>
<text x="508.60" y="78.10" font-size="2.8" fill="#999" text-anchor="middle">10⁵</text>
<rect x="330.50" y="80.80" width="45.00" height="45.30" fill="none" stroke="#d0d0d0" stroke-width="0.8"/>
<path d="M340.30,99.20 L340.30,98.30 L340.70,98.30 L341.10,98.30 L341.50,98.30 L341.90,98.17 L342.30,97.40 L342.70,96.22 L343.10,95.16 L343.50,93.40 L343.90,91.92 L344.30,91.98 L344.70,90.57 L345.10,88.20 L345.50,86.76 L345.90,83.65 L346.30,83.23 L346.70,88.16 L347.10,89.71 L347.50,90.91 L347.90,92.95 L348.30,94.30 L348.70,96.21 L349.10,97.92 L349.50,98.30 L349.90,98.30 L350.30,98.30 L350.70,98.30 L351.10,98.30 L351.50,98.30 L351.90,98.30 L352.30,98.30 L352.70,98.30 L353.10,98.30 L353.50,98.30 L353.50,99.20Z " fill="#8a8a8a"/>
<path d="M343.10,108.20 L343.10,107.30 L343.50,107.30 L343.90,107.30 L344.30,106.90 L344.70,105.15 L345.10,103.09 L345.50,99.95 L345.90,98.15 L346.30,97.32 L346.70,93.32 L347.10,94.64 L347.50,96.36 L347.90,97.23 L348.30,100.17 L348.70,102.63 L349.10,103.34 L349.50,103.92 L349.90,104.47 L350.30,104.82 L350.70,105.79 L351.10,106.50 L351.50,106.71 L351.90,107.12 L352.30,107.30 L352.70,107.30 L353.10,107.30 L353.50,107.30 L353.90,107.30 L354.30,107.30 L354.70,107.30 L354.70,108.20Z " fill="#000"/>
<path d="M345.10,117.20 L345.10,116.30 L345.50,116.30 L345.90,116.30 L346.30,115.95 L346.70,113.74 L347.10,110.65 L347.50,106.76 L347.90,105.21 L348.30,102.54 L348.70,101.52 L349.10,102.61 L349.50,102.84 L349.90,103.47 L350.30,106.73 L350.70,107.82 L351.10,107.38 L351.50,108.38 L351.90,108.82 L352.30,109.67 L352.70,111.74 L353.10,112.38 L353.50,112.45 L353.90,113.27 L354.30,113.80 L354.70,114.53 L355.10,115.53 L355.50,115.96 L355.90,116.30 L356.30,116.30 L356.70,116.30 L357.10,116.30 L357.50,116.30 L357.90,116.30 L358.30,116.30 L358.70,116.30 L359.10,116.30 L359.50,116.30 L359.90,116.30 L360.30,116.30 L360.70,116.30 L360.70,117.20Z " fill="#14b014"/>
<path d="M339.50,126.10 L339.50,125.20 L339.90,125.20 L340.30,125.20 L340.70,125.20 L341.10,125.20 L341.50,125.11 L341.90,124.43 L342.30,123.29 L342.70,122.40 L343.10,122.11 L343.50,120.77 L343.90,119.21 L344.30,117.85 L344.70,115.27 L345.10,114.44 L345.50,114.98 L345.90,112.36 L346.30,110.53 L346.70,111.46 L347.10,111.02 L347.50,113.39 L347.90,116.12 L348.30,115.80 L348.70,116.18 L349.10,116.96 L349.50,117.05 L349.90,118.87 L350.30,120.48 L350.70,120.38 L351.10,120.86 L351.50,121.49 L351.90,121.85 L352.30,122.98 L352.70,123.79 L353.10,123.93 L353.50,124.35 L353.90,124.77 L354.30,125.12 L354.70,125.20 L355.10,125.20 L355.50,125.20 L355.90,125.20 L356.30,125.20 L356.70,125.20 L357.10,125.20 L357.50,125.20 L357.90,125.20 L358.30,125.20 L358.70,125.20 L359.10,125.20 L359.50,125.20 L359.90,125.20 L359.90,126.10Z " fill="#e80000"/>
<line x1="330.50" y1="126.40" x2="375.50" y2="126.40" stroke="#444" stroke-width="1"/>
<line x1="332.50" y1="126.40" x2="332.50" y2="127.70" stroke="#909090" stroke-width="0.6"/>
<line x1="340.00" y1="126.40" x2="340.00" y2="127.70" stroke="#909090" stroke-width="0.6"/>
<line x1="351.00" y1="126.40" x2="351.00" y2="127.70" stroke="#909090" stroke-width="0.6"/>
<line x1="359.60" y1="126.40" x2="359.60" y2="127.70" stroke="#909090" stroke-width="0.6"/>
<line x1="370.00" y1="126.40" x2="370.00" y2="127.70" stroke="#909090" stroke-width="0.6"/>
<text x="332.50" y="130.10" font-size="2.8" fill="#999" text-anchor="middle">0</text>
<text x="340.00" y="130.10" font-size="2.8" fill="#999" text-anchor="middle">10²</text>
<text x="351.00" y="130.10" font-size="2.8" fill="#999" text-anchor="middle">10³</text>
<text x="359.60" y="130.10" font-size="2.8" fill="#999" text-anchor="middle">10⁴</text>
<text x="370.00" y="130.10" font-size="2.8" fill="#999" text-anchor="middle">10⁵</text>
<rect x="376.90" y="80.80" width="45.00" height="45.30" fill="none" stroke="#d0d0d0" stroke-width="0.8"/>
<path d="M377.50,99.20 L377.50,98.03 L377.90,97.35 L378.30,96.59 L378.70,96.36 L379.10,95.91 L379.50,95.54 L379.90,95.38 L380.30,94.12 L380.70,93.10 L381.10,93.28 L381.50,92.82 L381.90,92.55 L382.30,92.46 L382.70,90.53 L383.10,89.46 L383.50,90.14 L383.90,89.62 L384.30,89.47 L384.70,89.30 L385.10,86.66 L385.50,85.77 L385.90,87.00 L386.30,86.35 L386.70,86.30 L387.10,85.91 L387.50,82.59 L387.90,82.95 L388.30,87.52 L388.70,89.65 L389.10,92.22 L389.50,94.32 L389.90,95.88 L390.30,96.70 L390.70,97.27 L391.10,97.44 L391.50,97.72 L391.90,97.88 L392.30,97.89 L392.70,98.19 L393.10,98.30 L393.50,98.30 L393.90,98.30 L394.30,98.30 L394.30,99.20Z " fill="#8a8a8a"/>
<path d="M380.70,108.20 L380.70,107.30 L381.10,107.30 L381.50,107.30 L381.90,107.30 L382.30,106.89 L382.70,106.16 L383.10,105.64 L383.50,104.80 L383.90,104.29 L384.30,103.33 L384.70,101.36 L385.10,100.77 L385.50,100.67 L385.90,99.56 L386.30,99.27 L386.70,97.75 L387.10,94.73 L387.50,94.76 L387.90,95.14 L388.30,93.72 L388.70,94.92 L389.10,95.43 L389.50,95.31 L389.90,98.30 L390.30,100.66 L390.70,101.84 L391.10,103.52 L391.50,104.43 L391.90,105.43 L392.30,106.98 L392.70,107.30 L393.10,107.30 L393.50,107.30 L393.90,107.30 L394.30,107.30 L394.70,107.30 L395.10,107.30 L395.50,107.30 L395.90,107.30 L396.30,107.30 L396.70,107.30 L396.70,108.20Z " fill="#000"/>
<path d="M377.50,117.20 L377.50,114.95 L377.90,114.80 L378.30,114.47 L378.70,114.48 L379.10,114.01 L379.50,113.07 L379.90,113.03 L380.30,113.05 L380.70,112.74 L381.10,112.92 L381.50,112.23 L381.90,111.07 L382.30,111.33 L382.70,111.45 L383.10,111.15 L383.50,111.44 L383.90,110.45 L384.30,109.18 L384.70,109.78 L385.10,109.96 L385.50,109.65 L385.90,109.98 L386.30,108.67 L386.70,107.39 L387.10,108.37 L387.50,108.54 L387.90,108.21 L388.30,108.52 L388.70,106.86 L389.10,105.70 L389.50,107.07 L389.90,107.17 L390.30,106.81 L390.70,107.03 L391.10,105.05 L391.50,104.13 L391.90,105.88 L392.30,105.82 L392.70,105.42 L393.10,105.51 L393.50,103.24 L393.90,102.67 L394.30,104.76 L394.70,104.48 L395.10,104.03 L395.50,103.96 L395.90,101.45 L396.30,101.34 L396.70,103.70 L397.10,103.13 L397.50,102.64 L397.90,102.37 L398.30,100.63 L398.70,102.23 L399.10,105.44 L399.50,105.72 L399.90,106.37 L400.30,107.10 L400.70,106.65 L401.10,108.37 L401.50,110.61 L401.90,111.09 L402.30,111.97 L402.70,112.89 L403.10,113.58 L403.50,115.14 L403.90,116.30 L404.30,116.30 L404.70,116.30 L405.10,116.30 L405.50,116.30 L405.90,116.30 L406.30,116.30 L406.70,116.30 L407.10,116.30 L407.50,116.30 L407.90,116.30 L407.90,117.20Z " fill="#14b014"/>
<path d="M377.50,126.10 L377.50,123.80 L377.90,123.20 L378.30,122.89 L378.70,122.57 L379.10,121.26 L379.50,120.58 L379.90,120.70 L380.30,120.18 L380.70,120.17 L381.10,119.87 L381.50,118.03 L381.90,117.57 L382.30,118.11 L382.70,117.57 L383.10,117.78 L383.50,117.30 L383.90,115.01 L384.30,114.91 L384.70,115.80 L385.10,115.18 L385.50,115.54 L385.90,114.77 L386.30,112.12 L386.70,112.53 L387.10,113.67 L387.50,112.94 L387.90,114.10 L388.30,113.71 L388.70,111.98 L389.10,113.59 L389.50,115.27 L389.90,115.26 L390.30,116.22 L390.70,115.78 L391.10,114.67 L391.50,116.33 L391.90,117.64 L392.30,117.67 L392.70,118.46 L393.10,118.11 L393.50,117.60 L393.90,119.14 L394.30,120.12 L394.70,120.25 L395.10,120.91 L395.50,120.81 L395.90,120.85 L396.30,122.11 L396.70,122.84 L397.10,123.17 L397.50,123.79 L397.90,124.14 L398.30,124.76 L398.70,125.20 L399.10,125.20 L399.50,125.20 L399.90,125.20 L400.30,125.20 L400.70,125.20 L401.10,125.20 L401.50,125.20 L401.90,125.20 L402.30,125.20 L402.70,125.20 L402.70,126.10Z " fill="#e80000"/>
<line x1="376.90" y1="126.40" x2="421.90" y2="126.40" stroke="#444" stroke-width="1"/>
<line x1="378.90" y1="126.40" x2="378.90" y2="127.70" stroke="#909090" stroke-width="0.6"/>
<line x1="386.40" y1="126.40" x2="386.40" y2="127.70" stroke="#909090" stroke-width="0.6"/>
<line x1="397.40" y1="126.40" x2="397.40" y2="127.70" stroke="#909090" stroke-width="0.6"/>
<line x1="406.00" y1="126.40" x2="406.00" y2="127.70" stroke="#909090" stroke-width="0.6"/>
<line x1="416.40" y1="126.40" x2="416.40" y2="127.70" stroke="#909090" stroke-width="0.6"/>
<text x="378.90" y="130.10" font-size="2.8" fill="#999" text-anchor="middle">0</text>
<text x="386.40" y="130.10" font-size="2.8" fill="#999" text-anchor="middle">10²</text>
<text x="397.40" y="130.10" font-size="2.8" fill="#999" text-anchor="middle">10³</text>
<text x="406.00" y="130.10" font-size="2.8" fill="#999" text-anchor="middle">10⁴</text>
<text x="416.40" y="130.10" font-size="2.8" fill="#999" text-anchor="middle">10⁵</text>
<rect x="422.70" y="80.80" width="45.00" height="45.30" fill="none" stroke="#d0d0d0" stroke-width="0.8"/>
<path d="M432.90,99.20 L432.90,98.30 L433.30,98.30 L433.70,98.30 L434.10,98.30 L434.50,98.24 L434.90,97.32 L435.30,96.52 L435.70,95.73 L436.10,93.68 L436.50,91.94 L436.90,91.15 L437.30,89.53 L437.70,88.95 L438.10,87.98 L438.50,83.70 L438.90,82.53 L439.30,86.16 L439.70,88.01 L440.10,90.77 L440.50,92.50 L440.90,92.88 L441.30,94.61 L441.70,96.42 L442.10,97.60 L442.50,98.30 L442.90,98.30 L443.30,98.30 L443.70,98.30 L444.10,98.30 L444.50,98.30 L444.90,98.30 L445.30,98.30 L445.70,98.30 L446.10,98.30 L446.50,98.30 L446.90,98.30 L446.90,99.20Z " fill="#8a8a8a"/>
<path d="M432.90,108.20 L432.90,107.30 L433.30,107.30 L433.70,107.30 L434.10,107.30 L434.50,107.27 L434.90,106.63 L435.30,105.72 L435.70,103.98 L436.10,102.80 L436.50,101.84 L436.90,100.42 L437.30,100.09 L437.70,98.34 L438.10,94.59 L438.50,93.50 L438.90,93.79 L439.30,96.28 L439.70,99.75 L440.10,101.19 L440.50,102.19 L440.90,104.53 L441.30,106.31 L441.70,107.30 L442.10,107.30 L442.50,107.30 L442.90,107.30 L443.30,107.30 L443.70,107.30 L444.10,107.30 L444.50,107.30 L444.90,107.30 L445.30,107.30 L445.70,107.30 L445.70,108.20Z " fill="#000"/>
<path d="M431.70,117.20 L431.70,116.30 L432.10,116.30 L432.50,116.30 L432.90,115.78 L433.30,114.77 L433.70,114.03 L434.10,113.42 L434.50,113.42 L434.90,112.48 L435.30,111.14 L435.70,111.07 L436.10,110.75 L436.50,110.50 L436.90,110.97 L437.30,109.69 L437.70,108.21 L438.10,108.60 L438.50,108.41 L438.90,108.38 L439.30,109.01 L439.70,107.30 L440.10,105.81 L440.50,106.63 L440.90,106.48 L441.30,106.30 L441.70,107.26 L442.10,105.08 L442.50,103.74 L442.90,104.97 L443.30,104.81 L443.70,105.08 L444.10,105.73 L444.50,103.80 L444.90,101.38 L445.30,101.73 L445.70,103.09 L446.10,104.94 L446.50,106.56 L446.90,105.71 L447.30,106.12 L447.70,107.01 L448.10,105.27 L448.50,104.13 L448.90,105.77 L449.30,105.13 L449.70,106.85 L450.10,109.56 L450.50,110.73 L450.90,111.95 L451.30,112.48 L451.70,112.31 L452.10,113.30 L452.50,114.64 L452.90,115.65 L453.30,116.30 L453.70,116.30 L454.10,116.30 L454.50,116.30 L454.90,116.30 L455.30,116.30 L455.70,116.30 L456.10,116.30 L456.50,116.30 L456.90,116.30 L457.30,116.30 L457.30,117.20Z " fill="#14b014"/>
<path d="M429.70,126.10 L429.70,125.20 L430.10,125.20 L430.50,125.20 L430.90,125.20 L431.30,124.42 L431.70,123.67 L432.10,122.82 L432.50,120.78 L432.90,119.19 L433.30,118.19 L433.70,116.50 L434.10,116.19 L434.50,114.95 L434.90,110.64 L435.30,109.67 L435.70,112.38 L436.10,113.78 L436.50,116.57 L436.90,117.75 L437.30,117.47 L437.70,119.09 L438.10,120.80 L438.50,121.92 L438.90,123.35 L439.30,123.67 L439.70,122.83 L440.10,122.65 L440.50,122.56 L440.90,122.21 L441.30,122.69 L441.70,122.62 L442.10,122.21 L442.50,122.70 L442.90,123.11 L443.30,123.29 L443.70,123.73 L444.10,123.65 L444.50,123.47 L444.90,123.89 L445.30,124.19 L445.70,124.35 L446.10,124.65 L446.50,124.61 L446.90,124.59 L447.30,124.91 L447.70,125.11 L448.10,125.24 L448.50,125.42 L448.90,125.44 L449.30,125.51 L449.70,125.70 L450.10,125.81 L450.10,126.10Z " fill="#e80000"/>
<line x1="422.70" y1="126.40" x2="467.70" y2="126.40" stroke="#444" stroke-width="1"/>
<line x1="424.70" y1="126.40" x2="424.70" y2="127.70" stroke="#909090" stroke-width="0.6"/>
<line x1="432.20" y1="126.40" x2="432.20" y2="127.70" stroke="#909090" stroke-width="0.6"/>
<line x1="443.20" y1="126.40" x2="443.20" y2="127.70" stroke="#909090" stroke-width="0.6"/>
<line x1="451.80" y1="126.40" x2="451.80" y2="127.70" stroke="#909090" stroke-width="0.6"/>
<line x1="462.20" y1="126.40" x2="462.20" y2="127.70" stroke="#909090" stroke-width="0.6"/>
<text x="424.70" y="130.10" font-size="2.8" fill="#999" text-anchor="middle">0</text>
<text x="432.20" y="130.10" font-size="2.8" fill="#999" text-anchor="middle">10²</text>
<text x="443.20" y="130.10" font-size="2.8" fill="#999" text-anchor="middle">10³</text>
<text x="451.80" y="130.10" font-size="2.8" fill="#999" text-anchor="middle">10⁴</text>
<text x="462.20" y="130.10" font-size="2.8" fill="#999" text-anchor="middle">10⁵</text>
<rect x="469.10" y="80.80" width="45.00" height="45.30" fill="none" stroke="#d0d0d0" stroke-width="0.8"/>
<path d="M469.70,99.20 L469.70,98.30 L470.10,98.30 L470.50,98.30 L470.90,98.27 L471.30,97.83 L471.70,97.16 L472.10,96.86 L472.50,96.73 L472.90,95.88 L473.30,95.15 L473.70,94.44 L474.10,93.28 L474.50,93.36 L474.90,93.47 L475.30,91.94 L475.70,90.98 L476.10,90.03 L476.50,88.52 L476.90,89.27 L477.30,89.52 L477.70,87.13 L478.10,88.97 L478.50,90.74 L478.90,92.28 L479.30,91.64 L479.70,90.11 L480.10,86.01 L480.50,83.21 L480.90,84.26 L481.30,85.18 L481.70,88.61 L482.10,90.00 L482.50,89.58 L482.90,90.79 L483.30,91.78 L483.70,92.80 L484.10,94.77 L484.50,95.57 L484.90,95.86 L485.30,96.77 L485.70,97.51 L486.10,98.20 L486.50,98.30 L486.90,98.30 L487.30,98.30 L487.70,98.30 L488.10,98.30 L488.50,98.30 L488.90,98.30 L489.30,98.30 L489.70,98.30 L490.10,98.30 L490.50,98.30 L490.90,98.30 L490.90,99.20Z " fill="#8a8a8a"/>
<path d="M482.90,108.20 L482.90,107.30 L483.30,107.30 L483.70,107.30 L484.10,107.30 L484.50,107.20 L484.90,106.60 L485.30,105.78 L485.70,105.17 L486.10,104.93 L486.50,103.62 L486.90,102.13 L487.30,101.38 L487.70,100.02 L488.10,99.65 L488.50,99.88 L488.90,97.34 L489.30,95.11 L489.70,94.53 L490.10,92.77 L490.50,93.03 L490.90,96.09 L491.30,96.25 L491.70,97.96 L492.10,100.76 L492.50,102.65 L492.90,104.93 L493.30,106.55 L493.70,107.30 L494.10,107.30 L494.50,107.30 L494.90,107.30 L495.30,107.30 L495.70,107.30 L496.10,107.30 L496.50,107.30 L496.90,107.30 L497.30,107.30 L497.70,107.30 L497.70,108.20Z " fill="#000"/>
<path d="M472.10,117.20 L472.10,116.97 L472.50,116.94 L472.90,116.87 L473.30,116.83 L473.70,116.86 L474.10,116.80 L474.50,116.71 L474.90,116.67 L475.30,116.57 L475.70,116.55 L476.10,116.62 L476.50,116.52 L476.90,116.40 L477.30,116.36 L477.70,116.23 L478.10,116.24 L478.50,116.35 L478.90,116.19 L479.30,116.05 L479.70,116.00 L480.10,115.85 L480.50,115.91 L480.90,116.05 L481.30,115.82 L481.70,115.65 L482.10,115.61 L482.50,115.45 L482.90,115.58 L483.30,115.72 L483.70,115.40 L484.10,115.22 L484.50,115.20 L484.90,115.02 L485.30,115.23 L485.70,115.36 L486.10,114.97 L486.50,114.55 L486.90,113.60 L487.30,112.33 L487.70,111.93 L488.10,111.22 L488.50,108.66 L488.90,107.07 L489.30,105.92 L489.70,104.12 L490.10,104.62 L490.50,104.36 L490.90,103.48 L491.30,105.21 L491.70,107.19 L492.10,108.63 L492.50,111.14 L492.90,112.30 L493.30,112.64 L493.70,113.96 L494.10,115.13 L494.50,116.05 L494.90,116.30 L495.30,116.30 L495.70,116.30 L496.10,116.30 L496.50,116.30 L496.90,116.30 L497.30,116.30 L497.70,116.30 L498.10,116.30 L498.50,116.30 L498.90,116.30 L498.90,117.20Z " fill="#14b014"/>
<path d="M471.70,126.10 L471.70,125.74 L472.10,125.49 L472.50,125.16 L472.90,124.75 L473.30,124.65 L473.70,124.43 L474.10,123.81 L474.50,123.41 L474.90,122.82 L475.30,122.21 L475.70,122.45 L476.10,122.17 L476.50,121.09 L476.90,120.62 L477.30,119.79 L477.70,120.33 L478.10,121.87 L478.50,122.37 L478.90,122.37 L479.30,122.95 L479.70,123.32 L480.10,123.83 L480.50,124.62 L480.90,124.94 L481.30,124.84 L481.70,124.81 L482.10,124.69 L482.50,124.67 L482.90,124.87 L483.30,124.73 L483.70,124.56 L484.10,124.70 L484.50,124.74 L484.90,124.90 L485.30,125.05 L485.70,124.37 L486.10,123.46 L486.50,122.84 L486.90,121.91 L487.30,121.38 L487.70,121.38 L488.10,119.85 L488.50,118.18 L488.90,117.59 L489.30,116.28 L489.70,116.08 L490.10,116.98 L490.50,116.51 L490.90,116.82 L491.30,118.41 L491.70,119.26 L492.10,120.81 L492.50,122.16 L492.90,122.27 L493.30,122.90 L493.70,123.87 L494.10,124.53 L494.50,125.20 L494.90,125.20 L495.30,125.20 L495.70,125.20 L496.10,125.20 L496.50,125.20 L496.90,125.20 L497.30,125.20 L497.70,125.20 L498.10,125.20 L498.50,125.20 L498.90,125.20 L499.30,125.20 L499.30,126.10Z " fill="#e80000"/>
<line x1="469.10" y1="126.40" x2="514.10" y2="126.40" stroke="#444" stroke-width="1"/>
<line x1="471.10" y1="126.40" x2="471.10" y2="127.70" stroke="#909090" stroke-width="0.6"/>
<line x1="478.60" y1="126.40" x2="478.60" y2="127.70" stroke="#909090" stroke-width="0.6"/>
<line x1="489.60" y1="126.40" x2="489.60" y2="127.70" stroke="#909090" stroke-width="0.6"/>
<line x1="498.20" y1="126.40" x2="498.20" y2="127.70" stroke="#909090" stroke-width="0.6"/>
<line x1="508.60" y1="126.40" x2="508.60" y2="127.70" stroke="#909090" stroke-width="0.6"/>
<text x="471.10" y="130.10" font-size="2.8" fill="#999" text-anchor="middle">0</text>
<text x="478.60" y="130.10" font-size="2.8" fill="#999" text-anchor="middle">10²</text>
<text x="489.60" y="130.10" font-size="2.8" fill="#999" text-anchor="middle">10³</text>
<text x="498.20" y="130.10" font-size="2.8" fill="#999" text-anchor="middle">10⁴</text>
<text x="508.60" y="130.10" font-size="2.8" fill="#999" text-anchor="middle">10⁵</text>
<rect x="330.50" y="134.70" width="45.00" height="45.70" fill="none" stroke="#d0d0d0" stroke-width="0.8"/>
<path d="M336.30,152.40 L336.30,151.50 L336.70,151.50 L337.10,151.50 L337.50,151.50 L337.90,151.24 L338.30,150.12 L338.70,149.38 L339.10,147.91 L339.50,146.23 L339.90,144.56 L340.30,141.48 L340.70,140.19 L341.10,140.45 L341.50,137.65 L341.90,138.71 L342.30,140.10 L342.70,140.28 L343.10,142.85 L343.50,145.54 L343.90,146.15 L344.30,147.20 L344.70,148.29 L345.10,149.07 L345.50,150.43 L345.90,151.44 L346.30,151.50 L346.70,151.50 L347.10,151.50 L347.50,151.50 L347.90,151.50 L348.30,151.50 L348.70,151.50 L349.10,151.50 L349.50,151.50 L349.90,151.50 L350.30,151.50 L350.30,152.40Z " fill="#8a8a8a"/>
<path d="M339.10,161.90 L339.10,161.00 L339.50,161.00 L339.90,161.00 L340.30,161.00 L340.70,161.00 L341.10,160.42 L341.50,160.00 L341.90,159.20 L342.30,158.07 L342.70,157.14 L343.10,155.41 L343.50,154.32 L343.90,154.64 L344.30,153.23 L344.70,151.27 L345.10,150.05 L345.50,147.22 L345.90,146.41 L346.30,147.87 L346.70,149.03 L347.10,150.27 L347.50,152.44 L347.90,153.65 L348.30,156.12 L348.70,157.85 L349.10,158.10 L349.50,158.52 L349.90,159.18 L350.30,159.59 L350.70,160.36 L351.10,161.00 L351.50,161.00 L351.90,161.00 L352.30,161.00 L352.70,161.00 L353.10,161.00 L353.50,161.00 L353.90,161.00 L354.30,161.00 L354.70,161.00 L355.10,161.00 L355.50,161.00 L355.90,161.00 L356.30,161.00 L356.30,161.90Z " fill="#000"/>
<path d="M339.50,170.90 L339.50,170.00 L339.90,170.00 L340.30,170.00 L340.70,170.00 L341.10,169.66 L341.50,168.71 L341.90,167.74 L342.30,166.78 L342.70,165.24 L343.10,164.84 L343.50,164.95 L343.90,163.47 L344.30,162.34 L344.70,161.20 L345.10,159.14 L345.50,159.59 L345.90,160.29 L346.30,158.09 L346.70,156.85 L347.10,155.49 L347.50,153.12 L347.90,156.14 L348.30,158.31 L348.70,157.15 L349.10,157.54 L349.50,157.78 L349.90,157.63 L350.30,160.24 L350.70,161.67 L351.10,160.86 L351.50,161.42 L351.90,161.78 L352.30,162.08 L352.70,164.11 L353.10,165.02 L353.50,164.70 L353.90,165.36 L354.30,165.87 L354.70,166.45 L355.10,167.79 L355.50,168.41 L355.90,168.67 L356.30,169.36 L356.70,170.00 L357.10,170.00 L357.50,170.00 L357.90,170.00 L358.30,170.00 L358.70,170.00 L359.10,170.00 L359.50,170.00 L359.90,170.00 L360.30,170.00 L360.70,170.00 L361.10,170.00 L361.10,170.90Z " fill="#14b014"/>
<path d="M339.10,180.40 L339.10,179.50 L339.50,179.50 L339.90,179.50 L340.30,179.50 L340.70,178.73 L341.10,177.67 L341.50,177.28 L341.90,176.35 L342.30,175.08 L342.70,174.19 L343.10,172.37 L343.50,171.52 L343.90,172.24 L344.30,170.96 L344.70,169.27 L345.10,168.37 L345.50,165.93 L345.90,165.65 L346.30,167.35 L346.70,165.42 L347.10,163.36 L347.50,163.40 L347.90,162.69 L348.30,165.02 L348.70,168.34 L349.10,167.94 L349.50,168.09 L349.90,169.08 L350.30,169.11 L350.70,171.18 L351.10,173.35 L351.50,173.32 L351.90,173.90 L352.30,174.89 L352.70,175.53 L353.10,177.04 L353.50,178.28 L353.90,178.89 L354.30,179.50 L354.70,179.50 L355.10,179.50 L355.50,179.50 L355.90,179.50 L356.30,179.50 L356.70,179.50 L357.10,179.50 L357.50,179.50 L357.90,179.50 L358.30,179.50 L358.30,180.40Z " fill="#e80000"/>
<line x1="330.50" y1="180.70" x2="375.50" y2="180.70" stroke="#444" stroke-width="1"/>
<line x1="332.50" y1="180.70" x2="332.50" y2="182.00" stroke="#909090" stroke-width="0.6"/>
<line x1="340.00" y1="180.70" x2="340.00" y2="182.00" stroke="#909090" stroke-width="0.6"/>
<line x1="351.00" y1="180.70" x2="351.00" y2="182.00" stroke="#909090" stroke-width="0.6"/>
<line x1="359.60" y1="180.70" x2="359.60" y2="182.00" stroke="#909090" stroke-width="0.6"/>
<line x1="370.00" y1="180.70" x2="370.00" y2="182.00" stroke="#909090" stroke-width="0.6"/>
<text x="332.50" y="184.40" font-size="2.8" fill="#999" text-anchor="middle">0</text>
<text x="340.00" y="184.40" font-size="2.8" fill="#999" text-anchor="middle">10²</text>
<text x="351.00" y="184.40" font-size="2.8" fill="#999" text-anchor="middle">10³</text>
<text x="359.60" y="184.40" font-size="2.8" fill="#999" text-anchor="middle">10⁴</text>
<text x="370.00" y="184.40" font-size="2.8" fill="#999" text-anchor="middle">10⁵</text>
<rect x="376.90" y="134.70" width="45.00" height="45.70" fill="none" stroke="#d0d0d0" stroke-width="0.8"/>
<path d="M378.70,152.40 L378.70,151.50 L379.10,151.50 L379.50,151.50 L379.90,151.50 L380.30,151.45 L380.70,150.74 L381.10,150.16 L381.50,149.26 L381.90,147.55 L382.30,146.68 L382.70,146.19 L383.10,144.96 L383.50,144.51 L383.90,142.84 L384.30,139.59 L384.70,139.12 L385.10,139.06 L385.50,138.12 L385.90,140.57 L386.30,140.98 L386.70,140.72 L387.10,143.25 L387.50,145.27 L387.90,146.29 L388.30,147.77 L388.70,148.37 L389.10,148.98 L389.50,150.33 L389.90,150.99 L390.30,150.69 L390.70,150.53 L391.10,150.00 L391.50,149.40 L391.90,149.50 L392.30,149.76 L392.70,149.87 L393.10,150.17 L393.50,150.08 L393.90,150.12 L394.30,150.65 L394.70,150.90 L395.10,151.01 L395.50,151.22 L395.90,151.23 L396.30,151.36 L396.70,151.67 L397.10,151.82 L397.50,151.93 L397.90,152.06 L398.30,152.13 L398.30,152.40Z " fill="#8a8a8a"/>
<path d="M380.30,161.90 L380.30,161.00 L380.70,161.00 L381.10,161.00 L381.50,161.00 L381.90,161.00 L382.30,160.48 L382.70,159.61 L383.10,159.06 L383.50,158.14 L383.90,157.42 L384.30,156.52 L384.70,154.17 L385.10,152.95 L385.50,152.91 L385.90,151.53 L386.30,150.87 L386.70,149.48 L387.10,145.43 L387.50,147.21 L387.90,150.81 L388.30,152.24 L388.70,154.27 L389.10,155.51 L389.50,156.02 L389.90,157.86 L390.30,159.51 L390.70,160.48 L391.10,161.00 L391.50,161.00 L391.90,161.00 L392.30,161.00 L392.70,161.00 L393.10,161.00 L393.50,161.00 L393.90,161.00 L394.30,161.00 L394.70,161.00 L395.10,161.00 L395.50,161.00 L395.50,161.90Z " fill="#000"/>
<path d="M377.50,170.90 L377.50,170.00 L377.90,170.00 L378.30,169.72 L378.70,169.38 L379.10,168.47 L379.50,167.16 L379.90,166.62 L380.30,166.53 L380.70,166.02 L381.10,166.08 L381.50,165.53 L381.90,164.04 L382.30,164.03 L382.70,164.37 L383.10,163.95 L383.50,164.27 L383.90,163.54 L384.30,161.88 L384.70,162.29 L385.10,162.82 L385.50,162.41 L385.90,162.83 L386.30,162.19 L386.70,161.07 L387.10,162.18 L387.50,162.63 L387.90,162.14 L388.30,162.47 L388.70,161.22 L389.10,159.60 L389.50,160.69 L389.90,161.16 L390.30,160.60 L390.70,160.92 L391.10,159.32 L391.50,157.80 L391.90,159.35 L392.30,159.74 L392.70,159.10 L393.10,159.37 L393.50,157.43 L393.90,156.12 L394.30,158.13 L394.70,158.37 L395.10,157.62 L395.50,157.80 L395.90,155.55 L396.30,154.59 L396.70,157.01 L397.10,157.00 L397.50,156.14 L397.90,156.20 L398.30,154.58 L398.70,155.31 L399.10,158.75 L399.50,159.45 L399.90,159.79 L400.30,160.77 L400.70,160.30 L401.10,161.52 L401.50,164.01 L401.90,164.72 L402.30,165.46 L402.70,166.55 L403.10,167.27 L403.50,168.83 L403.90,170.00 L404.30,170.00 L404.70,170.00 L405.10,170.00 L405.50,170.00 L405.90,170.00 L406.30,170.00 L406.70,170.00 L407.10,170.00 L407.50,170.00 L407.90,170.00 L407.90,170.90Z " fill="#14b014"/>
<path d="M377.50,180.40 L377.50,176.99 L377.90,176.11 L378.30,176.08 L378.70,175.66 L379.10,175.55 L379.50,175.52 L379.90,174.14 L380.30,173.48 L380.70,173.59 L381.10,172.30 L381.50,171.52 L381.90,170.58 L382.30,166.93 L382.70,165.06 L383.10,166.17 L383.50,167.53 L383.90,169.63 L384.30,171.02 L384.70,170.36 L385.10,170.26 L385.50,171.31 L385.90,170.95 L386.30,171.28 L386.70,170.93 L387.10,168.83 L387.50,169.11 L387.90,170.33 L388.30,169.87 L388.70,169.97 L389.10,168.76 L389.50,167.45 L389.90,168.18 L390.30,169.47 L390.70,168.88 L391.10,169.34 L391.50,168.78 L391.90,167.07 L392.30,168.52 L392.70,169.99 L393.10,169.64 L393.50,170.24 L393.90,169.57 L394.30,168.09 L394.70,168.23 L395.10,168.81 L395.50,169.39 L395.90,170.95 L396.30,170.53 L396.70,169.65 L397.10,171.34 L397.50,172.27 L397.90,171.92 L398.30,171.82 L398.70,169.73 L399.10,168.18 L399.50,171.14 L399.90,172.66 L400.30,173.07 L400.70,173.75 L401.10,173.29 L401.50,173.23 L401.90,174.73 L402.30,175.23 L402.70,175.14 L403.10,175.60 L403.50,175.48 L403.90,175.86 L404.30,177.13 L404.70,177.71 L405.10,178.23 L405.50,179.50 L405.90,179.50 L406.30,179.50 L406.70,179.50 L407.10,179.50 L407.50,179.50 L407.90,179.50 L408.30,179.50 L408.70,179.50 L409.10,179.50 L409.50,179.50 L409.50,180.40Z " fill="#e80000"/>
<line x1="376.90" y1="180.70" x2="421.90" y2="180.70" stroke="#444" stroke-width="1"/>
<line x1="378.90" y1="180.70" x2="378.90" y2="182.00" stroke="#909090" stroke-width="0.6"/>
<line x1="386.40" y1="180.70" x2="386.40" y2="182.00" stroke="#909090" stroke-width="0.6"/>
<line x1="397.40" y1="180.70" x2="397.40" y2="182.00" stroke="#909090" stroke-width="0.6"/>
<line x1="406.00" y1="180.70" x2="406.00" y2="182.00" stroke="#909090" stroke-width="0.6"/>
<line x1="416.40" y1="180.70" x2="416.40" y2="182.00" stroke="#909090" stroke-width="0.6"/>
<text x="378.90" y="184.40" font-size="2.8" fill="#999" text-anchor="middle">0</text>
<text x="386.40" y="184.40" font-size="2.8" fill="#999" text-anchor="middle">10²</text>
<text x="397.40" y="184.40" font-size="2.8" fill="#999" text-anchor="middle">10³</text>
<text x="406.00" y="184.40" font-size="2.8" fill="#999" text-anchor="middle">10⁴</text>
<text x="416.40" y="184.40" font-size="2.8" fill="#999" text-anchor="middle">10⁵</text>
<rect x="422.70" y="134.70" width="45.00" height="45.70" fill="none" stroke="#d0d0d0" stroke-width="0.8"/>
<path d="M428.90,152.40 L428.90,151.50 L429.30,151.50 L429.70,151.50 L430.10,151.50 L430.50,151.30 L430.90,150.18 L431.30,149.04 L431.70,147.58 L432.10,146.88 L432.50,145.45 L432.90,142.12 L433.30,140.37 L433.70,139.05 L434.10,136.97 L434.50,139.90 L434.90,141.22 L435.30,140.98 L435.70,143.28 L436.10,145.41 L436.50,146.98 L436.90,148.93 L437.30,149.90 L437.70,150.69 L438.10,151.50 L438.50,151.50 L438.90,151.50 L439.30,151.50 L439.70,151.50 L440.10,151.50 L440.50,151.50 L440.90,151.50 L441.30,151.50 L441.70,151.50 L442.10,151.50 L442.50,151.50 L442.50,152.40Z " fill="#8a8a8a"/>
<path d="M432.10,161.90 L432.10,161.00 L432.50,161.00 L432.90,161.00 L433.30,161.00 L433.70,160.25 L434.10,158.99 L434.50,157.30 L434.90,156.12 L435.30,154.72 L435.70,150.91 L436.10,148.28 L436.50,147.03 L436.90,145.38 L437.30,148.52 L437.70,150.09 L438.10,149.07 L438.50,150.65 L438.90,152.92 L439.30,154.11 L439.70,156.04 L440.10,157.01 L440.50,157.19 L440.90,158.44 L441.30,159.65 L441.70,160.46 L442.10,161.00 L442.50,161.00 L442.90,161.00 L443.30,161.00 L443.70,161.00 L444.10,161.00 L444.50,161.00 L444.90,161.00 L445.30,161.00 L445.70,161.00 L446.10,161.00 L446.50,161.00 L446.50,161.90Z " fill="#000"/>
<path d="M441.30,170.90 L441.30,170.00 L441.70,170.00 L442.10,170.00 L442.50,168.91 L442.90,167.91 L443.30,166.87 L443.70,165.81 L444.10,165.23 L444.50,163.09 L444.90,160.92 L445.30,160.90 L445.70,160.05 L446.10,159.13 L446.50,158.91 L446.90,155.51 L447.30,152.99 L447.70,156.35 L448.10,157.65 L448.50,158.91 L448.90,160.47 L449.30,159.63 L449.70,160.30 L450.10,162.80 L450.50,163.88 L450.90,165.01 L451.30,166.16 L451.70,166.41 L452.10,167.52 L452.50,169.03 L452.90,170.00 L453.30,170.00 L453.70,170.00 L454.10,170.00 L454.50,170.00 L454.90,170.00 L455.30,170.00 L455.70,170.00 L456.10,170.00 L456.50,170.00 L456.90,170.00 L456.90,170.90Z " fill="#14b014"/>
<path d="M427.30,180.40 L427.30,179.50 L427.70,179.50 L428.10,179.50 L428.50,177.63 L428.90,176.23 L429.30,175.68 L429.70,174.88 L430.10,174.85 L430.50,175.00 L430.90,173.45 L431.30,172.53 L431.70,172.66 L432.10,172.12 L432.50,172.62 L432.90,172.89 L433.30,170.05 L433.70,168.29 L434.10,167.90 L434.50,166.35 L434.90,166.60 L435.30,166.67 L435.70,165.39 L436.10,166.88 L436.50,169.23 L436.90,168.84 L437.30,169.88 L437.70,169.79 L438.10,167.23 L438.50,167.15 L438.90,168.01 L439.30,167.66 L439.70,168.84 L440.10,168.48 L440.50,164.80 L440.90,166.92 L441.30,168.24 L441.70,168.32 L442.10,169.76 L442.50,169.37 L442.90,167.47 L443.30,168.51 L443.70,169.68 L444.10,169.31 L444.50,169.00 L444.90,166.48 L445.30,162.18 L445.70,165.14 L446.10,167.55 L446.50,168.67 L446.90,170.79 L447.30,170.91 L447.70,170.81 L448.10,172.45 L448.50,173.33 L448.90,173.63 L449.30,174.52 L449.70,174.21 L450.10,174.06 L450.50,175.44 L450.90,176.38 L451.30,177.18 L451.70,178.61 L452.10,179.50 L452.50,179.50 L452.90,179.50 L453.30,179.50 L453.70,179.50 L454.10,179.50 L454.50,179.50 L454.90,179.50 L455.30,179.50 L455.70,179.50 L455.70,180.40Z " fill="#e80000"/>
<line x1="422.70" y1="180.70" x2="467.70" y2="180.70" stroke="#444" stroke-width="1"/>
<line x1="424.70" y1="180.70" x2="424.70" y2="182.00" stroke="#909090" stroke-width="0.6"/>
<line x1="432.20" y1="180.70" x2="432.20" y2="182.00" stroke="#909090" stroke-width="0.6"/>
<line x1="443.20" y1="180.70" x2="443.20" y2="182.00" stroke="#909090" stroke-width="0.6"/>
<line x1="451.80" y1="180.70" x2="451.80" y2="182.00" stroke="#909090" stroke-width="0.6"/>
<line x1="462.20" y1="180.70" x2="462.20" y2="182.00" stroke="#909090" stroke-width="0.6"/>
<text x="424.70" y="184.40" font-size="2.8" fill="#999" text-anchor="middle">0</text>
<text x="432.20" y="184.40" font-size="2.8" fill="#999" text-anchor="middle">10²</text>
<text x="443.20" y="184.40" font-size="2.8" fill="#999" text-anchor="middle">10³</text>
<text x="451.80" y="184.40" font-size="2.8" fill="#999" text-anchor="middle">10⁴</text>
<text x="462.20" y="184.40" font-size="2.8" fill="#999" text-anchor="middle">10⁵</text>
<rect x="469.10" y="134.70" width="45.00" height="45.70" fill="none" stroke="#d0d0d0" stroke-width="0.8"/>
<path d="M471.70,152.40 L471.70,151.50 L472.10,151.50 L472.50,151.50 L472.90,151.50 L473.30,151.50 L473.70,151.23 L474.10,150.57 L474.50,149.48 L474.90,148.60 L475.30,147.26 L475.70,146.11 L476.10,146.27 L476.50,145.09 L476.90,142.89 L477.30,141.78 L477.70,139.62 L478.10,138.48 L478.50,139.77 L478.90,139.76 L479.30,139.69 L479.70,141.42 L480.10,142.19 L480.50,144.01 L480.90,146.54 L481.30,147.11 L481.70,147.68 L482.10,148.88 L482.50,149.72 L482.90,150.78 L483.30,151.50 L483.70,151.50 L484.10,151.50 L484.50,151.50 L484.90,151.50 L485.30,151.50 L485.70,151.50 L486.10,151.50 L486.50,151.50 L486.90,151.50 L487.30,151.50 L487.70,151.50 L487.70,152.40Z " fill="#8a8a8a"/>
<path d="M477.30,161.90 L477.30,161.68 L477.70,161.65 L478.10,161.62 L478.50,161.58 L478.90,161.61 L479.30,161.60 L479.70,161.52 L480.10,161.50 L480.50,161.45 L480.90,161.42 L481.30,161.48 L481.70,161.45 L482.10,161.34 L482.50,161.32 L482.90,161.27 L483.30,161.24 L483.70,161.33 L484.10,161.28 L484.50,161.14 L484.90,161.13 L485.30,161.07 L485.70,161.06 L486.10,161.17 L486.50,161.08 L486.90,160.93 L487.30,160.93 L487.70,160.86 L488.10,160.89 L488.50,161.08 L488.90,161.02 L489.30,160.93 L489.70,161.00 L490.10,161.00 L490.50,161.00 L490.90,161.00 L491.30,159.84 L491.70,157.69 L492.10,155.87 L492.50,153.40 L492.90,151.65 L493.30,150.69 L493.70,145.91 L494.10,145.96 L494.50,149.81 L494.90,152.23 L495.30,155.26 L495.70,157.75 L496.10,158.87 L496.50,160.41 L496.90,161.00 L497.30,161.00 L497.70,161.00 L498.10,161.00 L498.50,161.00 L498.90,161.00 L499.30,161.00 L499.70,161.00 L500.10,161.00 L500.50,161.00 L500.90,161.00 L500.90,161.90Z " fill="#000"/>
<path d="M473.30,170.90 L473.30,170.00 L473.70,170.00 L474.10,170.00 L474.50,170.00 L474.90,169.98 L475.30,169.45 L475.70,168.97 L476.10,168.92 L476.50,168.45 L476.90,167.65 L477.30,167.22 L477.70,166.43 L478.10,166.04 L478.50,166.48 L478.90,165.73 L479.30,164.58 L479.70,164.20 L480.10,163.20 L480.50,163.06 L480.90,163.96 L481.30,162.77 L481.70,161.31 L482.10,161.03 L482.50,159.87 L482.90,160.11 L483.30,161.36 L483.70,159.56 L484.10,157.88 L484.50,157.75 L484.90,156.49 L485.30,157.23 L485.70,158.68 L486.10,156.13 L486.50,154.34 L486.90,154.41 L487.30,155.69 L487.70,159.02 L488.10,161.94 L488.50,162.05 L488.90,163.38 L489.30,165.46 L489.70,167.04 L490.10,168.98 L490.50,170.00 L490.90,170.00 L491.30,170.00 L491.70,170.00 L492.10,170.00 L492.50,170.00 L492.90,170.00 L493.30,170.00 L493.70,170.00 L494.10,170.00 L494.50,170.00 L494.50,170.90Z " fill="#14b014"/>
<path d="M479.30,180.40 L479.30,179.50 L479.70,179.50 L480.10,179.50 L480.50,179.50 L480.90,179.50 L481.30,179.50 L481.70,179.12 L482.10,178.40 L482.50,177.89 L482.90,177.21 L483.30,176.62 L483.70,176.74 L484.10,175.95 L484.50,174.54 L484.90,173.99 L485.30,173.01 L485.70,172.47 L486.10,173.14 L486.50,171.76 L486.90,169.64 L487.30,169.21 L487.70,167.99 L488.10,167.72 L488.50,168.96 L488.90,166.67 L489.30,163.91 L489.70,163.78 L490.10,164.61 L490.50,166.76 L490.90,169.64 L491.30,169.02 L491.70,168.94 L492.10,170.70 L492.50,171.55 L492.90,173.17 L493.30,174.84 L493.70,174.73 L494.10,175.18 L494.50,176.38 L494.90,177.11 L495.30,178.09 L495.70,178.88 L496.10,179.19 L496.50,179.50 L496.90,179.50 L497.30,179.50 L497.70,179.50 L498.10,179.50 L498.50,179.50 L498.90,179.50 L499.30,179.50 L499.70,179.50 L500.10,179.50 L500.50,179.50 L500.90,179.50 L500.90,180.40Z " fill="#e80000"/>
<line x1="469.10" y1="180.70" x2="514.10" y2="180.70" stroke="#444" stroke-width="1"/>
<line x1="471.10" y1="180.70" x2="471.10" y2="182.00" stroke="#909090" stroke-width="0.6"/>
<line x1="478.60" y1="180.70" x2="478.60" y2="182.00" stroke="#909090" stroke-width="0.6"/>
<line x1="489.60" y1="180.70" x2="489.60" y2="182.00" stroke="#909090" stroke-width="0.6"/>
<line x1="498.20" y1="180.70" x2="498.20" y2="182.00" stroke="#909090" stroke-width="0.6"/>
<line x1="508.60" y1="180.70" x2="508.60" y2="182.00" stroke="#909090" stroke-width="0.6"/>
<text x="471.10" y="184.40" font-size="2.8" fill="#999" text-anchor="middle">0</text>
<text x="478.60" y="184.40" font-size="2.8" fill="#999" text-anchor="middle">10²</text>
<text x="489.60" y="184.40" font-size="2.8" fill="#999" text-anchor="middle">10³</text>
<text x="498.20" y="184.40" font-size="2.8" fill="#999" text-anchor="middle">10⁴</text>
<text x="508.60" y="184.40" font-size="2.8" fill="#999" text-anchor="middle">10⁵</text>
<rect x="331.20" y="228.40" width="45.00" height="44.80" fill="none" stroke="#d0d0d0" stroke-width="0.8"/>
<path d="M338.60,245.60 L338.60,244.70 L339.00,244.70 L339.40,244.70 L339.80,244.70 L340.20,244.70 L340.60,244.70 L341.00,244.70 L341.40,244.62 L341.80,244.33 L342.20,243.87 L342.60,243.52 L343.00,242.85 L343.40,242.39 L343.80,242.57 L344.20,242.10 L344.60,241.32 L345.00,240.70 L345.40,238.59 L345.80,237.12 L346.20,237.22 L346.60,235.22 L347.00,232.49 L347.40,231.60 L347.80,231.77 L348.20,233.93 L348.60,237.14 L349.00,237.65 L349.40,238.25 L349.80,239.52 L350.20,240.20 L350.60,241.68 L351.00,243.16 L351.40,243.73 L351.80,244.40 L352.20,244.70 L352.60,244.70 L353.00,244.70 L353.40,244.70 L353.80,244.70 L354.20,244.70 L354.60,244.70 L355.00,244.70 L355.40,244.70 L355.80,244.70 L356.20,244.70 L356.60,244.70 L357.00,244.70 L357.40,244.70 L357.40,245.60Z " fill="#8a8a8a"/>
<path d="M343.40,254.90 L343.40,254.00 L343.80,254.00 L344.20,254.00 L344.60,254.00 L345.00,253.70 L345.40,252.73 L345.80,251.69 L346.20,250.52 L346.60,248.79 L347.00,248.31 L347.40,248.02 L347.80,245.77 L348.20,244.09 L348.60,242.28 L349.00,240.35 L349.40,243.55 L349.80,245.74 L350.20,245.50 L350.60,246.45 L351.00,247.34 L351.40,248.03 L351.80,250.01 L352.20,251.18 L352.60,251.45 L353.00,252.26 L353.40,252.97 L353.80,253.63 L354.20,254.00 L354.60,254.00 L355.00,254.00 L355.40,254.00 L355.80,254.00 L356.20,254.00 L356.60,254.00 L357.00,254.00 L357.40,254.00 L357.80,254.00 L358.20,254.00 L358.60,254.00 L358.60,254.90Z " fill="#000"/>
<path d="M331.80,263.90 L331.80,261.81 L332.20,258.41 L332.60,257.49 L333.00,260.70 L333.40,263.00 L333.80,263.00 L334.20,263.00 L334.60,263.00 L335.00,263.00 L335.40,263.00 L335.80,263.00 L336.20,263.00 L336.60,263.00 L337.00,263.00 L337.40,263.00 L337.80,263.00 L338.20,263.00 L338.60,263.00 L339.00,263.00 L339.40,263.00 L339.80,263.00 L340.20,263.00 L340.60,263.00 L341.00,263.00 L341.40,263.00 L341.80,263.00 L342.20,263.00 L342.60,263.00 L343.00,263.00 L343.40,263.00 L343.80,263.00 L344.20,262.14 L344.60,259.80 L345.00,255.88 L345.40,252.03 L345.80,253.34 L346.20,256.47 L346.60,257.25 L347.00,257.16 L347.40,255.69 L347.80,251.42 L348.20,250.55 L348.60,254.07 L349.00,256.11 L349.40,256.55 L349.80,255.36 L350.20,251.36 L350.60,252.74 L351.00,256.83 L351.40,258.32 L351.80,254.83 L352.20,253.58 L352.60,257.51 L353.00,260.51 L353.40,263.00 L353.80,263.00 L354.20,263.00 L354.60,263.00 L355.00,263.00 L355.40,263.00 L355.80,263.00 L356.20,263.00 L356.60,263.00 L357.00,263.00 L357.40,263.00 L357.40,263.90Z " fill="#14b014"/>
<path d="M343.40,273.20 L343.40,272.30 L343.80,272.30 L344.20,272.30 L344.60,271.41 L345.00,270.04 L345.40,269.46 L345.80,268.09 L346.20,266.32 L346.60,265.08 L347.00,262.78 L347.40,261.88 L347.80,262.73 L348.20,260.70 L348.60,258.32 L349.00,257.12 L349.40,254.13 L349.80,255.79 L350.20,259.41 L350.60,258.74 L351.00,258.51 L351.40,259.51 L351.80,259.30 L352.20,261.45 L352.60,263.95 L353.00,263.52 L353.40,263.77 L353.80,264.75 L354.20,265.09 L354.60,266.84 L355.00,268.40 L355.40,268.48 L355.80,269.13 L356.20,270.07 L356.60,270.83 L357.00,271.96 L357.40,272.30 L357.80,272.30 L358.20,272.30 L358.60,272.30 L359.00,272.30 L359.40,272.30 L359.80,272.30 L360.20,272.30 L360.60,272.30 L361.00,272.30 L361.40,272.30 L361.40,273.20Z " fill="#e80000"/>
<line x1="331.20" y1="273.50" x2="376.20" y2="273.50" stroke="#444" stroke-width="1"/>
<line x1="333.20" y1="273.50" x2="333.20" y2="274.80" stroke="#909090" stroke-width="0.6"/>
<line x1="340.70" y1="273.50" x2="340.70" y2="274.80" stroke="#909090" stroke-width="0.6"/>
<line x1="351.70" y1="273.50" x2="351.70" y2="274.80" stroke="#909090" stroke-width="0.6"/>
<line x1="360.30" y1="273.50" x2="360.30" y2="274.80" stroke="#909090" stroke-width="0.6"/>
<line x1="370.70" y1="273.50" x2="370.70" y2="274.80" stroke="#909090" stroke-width="0.6"/>
<text x="333.20" y="277.20" font-size="2.8" fill="#999" text-anchor="middle">0</text>
<text x="340.70" y="277.20" font-size="2.8" fill="#999" text-anchor="middle">10²</text>
<text x="351.70" y="277.20" font-size="2.8" fill="#999" text-anchor="middle">10³</text>
<text x="360.30" y="277.20" font-size="2.8" fill="#999" text-anchor="middle">10⁴</text>
<text x="370.70" y="277.20" font-size="2.8" fill="#999" text-anchor="middle">10⁵</text>
<rect x="377.50" y="228.40" width="45.00" height="44.80" fill="none" stroke="#d0d0d0" stroke-width="0.8"/>
<path d="M378.10,245.60 L378.10,244.70 L378.50,244.70 L378.90,244.43 L379.30,244.04 L379.70,243.21 L380.10,242.06 L380.50,241.65 L380.90,241.05 L381.30,240.30 L381.70,240.01 L382.10,238.70 L382.50,238.88 L382.90,240.51 L383.30,241.48 L383.70,241.17 L384.10,240.47 L384.50,238.32 L384.90,236.21 L385.30,236.08 L385.70,234.98 L386.10,236.43 L386.50,238.14 L386.90,238.15 L387.30,238.07 L387.70,237.57 L388.10,236.05 L388.50,234.47 L388.90,233.15 L389.30,229.78 L389.70,231.47 L390.10,235.28 L390.50,236.91 L390.90,238.54 L391.30,240.08 L391.70,239.58 L392.10,239.26 L392.50,241.15 L392.90,241.97 L393.30,242.82 L393.70,243.58 L394.10,244.04 L394.50,244.70 L394.90,244.70 L395.30,244.70 L395.70,244.70 L396.10,244.70 L396.50,244.70 L396.90,244.70 L397.30,244.70 L397.70,244.70 L398.10,244.70 L398.50,244.70 L398.90,244.70 L398.90,245.60Z " fill="#8a8a8a"/>
<path d="M382.90,254.90 L382.90,254.00 L383.30,254.00 L383.70,254.00 L384.10,254.00 L384.50,254.00 L384.90,253.56 L385.30,252.83 L385.70,251.43 L386.10,250.48 L386.50,250.06 L386.90,248.89 L387.30,248.16 L387.70,246.83 L388.10,243.86 L388.50,243.09 L388.90,243.27 L389.30,242.26 L389.70,244.27 L390.10,245.12 L390.50,244.99 L390.90,247.20 L391.30,249.26 L391.70,250.17 L392.10,251.14 L392.50,250.45 L392.90,249.28 L393.30,250.26 L393.70,251.31 L394.10,251.69 L394.50,252.33 L394.90,252.64 L395.30,252.92 L395.70,253.63 L396.10,254.00 L396.50,254.00 L396.90,254.00 L397.30,254.00 L397.70,254.00 L397.70,254.90Z " fill="#000"/>
<path d="M378.10,263.90 L378.10,263.00 L378.50,263.00 L378.90,263.00 L379.30,262.57 L379.70,261.57 L380.10,260.14 L380.50,257.54 L380.90,256.87 L381.30,259.19 L381.70,260.65 L382.10,262.16 L382.50,263.00 L382.90,263.00 L383.30,263.00 L383.70,263.00 L384.10,263.00 L384.50,263.00 L384.90,263.00 L385.30,262.99 L385.70,263.00 L386.10,262.82 L386.50,261.55 L386.90,260.36 L387.30,258.26 L387.70,255.29 L388.10,258.16 L388.50,260.19 L388.90,261.56 L389.30,262.64 L389.70,262.41 L390.10,262.20 L390.50,262.48 L390.90,262.63 L391.30,262.65 L391.70,262.77 L392.10,262.67 L392.50,262.63 L392.90,262.87 L393.30,262.97 L393.70,262.99 L394.10,263.00 L394.50,263.00 L394.90,263.00 L395.30,263.00 L395.70,263.00 L396.10,263.00 L396.50,263.00 L396.90,263.00 L397.30,263.00 L397.70,262.66 L398.10,261.49 L398.50,259.97 L398.90,258.45 L399.30,256.65 L399.70,258.57 L400.10,260.89 L400.50,262.09 L400.90,263.00 L401.30,263.00 L401.70,263.00 L402.10,263.00 L402.50,263.00 L402.90,263.00 L403.30,263.00 L403.70,263.00 L404.10,263.00 L404.50,263.00 L404.90,263.00 L405.30,263.00 L405.30,263.90Z " fill="#14b014"/>
<path d="M378.10,273.20 L378.10,272.30 L378.50,272.30 L378.90,272.30 L379.30,271.70 L379.70,271.22 L380.10,270.75 L380.50,270.26 L380.90,270.09 L381.30,269.13 L381.70,268.08 L382.10,268.18 L382.50,267.92 L382.90,267.56 L383.30,267.61 L383.70,266.22 L384.10,265.07 L384.50,265.67 L384.90,265.48 L385.30,265.20 L385.70,265.31 L386.10,263.44 L386.50,262.38 L386.90,263.48 L387.30,263.25 L387.70,263.02 L388.10,263.07 L388.50,260.75 L388.90,259.93 L389.30,261.50 L389.70,261.15 L390.10,260.95 L390.50,260.84 L390.90,258.11 L391.30,257.70 L391.70,259.69 L392.10,259.14 L392.50,258.93 L392.90,258.59 L393.30,255.54 L393.70,255.68 L394.10,258.00 L394.50,257.63 L394.90,258.35 L395.30,258.70 L395.70,256.96 L396.10,258.62 L396.50,261.38 L396.90,261.41 L397.30,262.12 L397.70,262.43 L398.10,261.58 L398.50,263.33 L398.90,265.36 L399.30,265.53 L399.70,266.30 L400.10,266.77 L400.50,266.85 L400.90,268.42 L401.30,269.82 L401.70,270.44 L402.10,271.46 L402.50,272.30 L402.90,272.30 L403.30,272.30 L403.70,272.30 L404.10,272.30 L404.50,272.30 L404.90,272.30 L405.30,272.30 L405.70,272.30 L406.10,272.30 L406.50,272.30 L406.50,273.20Z " fill="#e80000"/>
<line x1="377.50" y1="273.50" x2="422.50" y2="273.50" stroke="#444" stroke-width="1"/>
<line x1="379.50" y1="273.50" x2="379.50" y2="274.80" stroke="#909090" stroke-width="0.6"/>
<line x1="387.00" y1="273.50" x2="387.00" y2="274.80" stroke="#909090" stroke-width="0.6"/>
<line x1="398.00" y1="273.50" x2="398.00" y2="274.80" stroke="#909090" stroke-width="0.6"/>
<line x1="406.60" y1="273.50" x2="406.60" y2="274.80" stroke="#909090" stroke-width="0.6"/>
<line x1="417.00" y1="273.50" x2="417.00" y2="274.80" stroke="#909090" stroke-width="0.6"/>
<text x="379.50" y="277.20" font-size="2.8" fill="#999" text-anchor="middle">0</text>
<text x="387.00" y="277.20" font-size="2.8" fill="#999" text-anchor="middle">10²</text>
<text x="398.00" y="277.20" font-size="2.8" fill="#999" text-anchor="middle">10³</text>
<text x="406.60" y="277.20" font-size="2.8" fill="#999" text-anchor="middle">10⁴</text>
<text x="417.00" y="277.20" font-size="2.8" fill="#999" text-anchor="middle">10⁵</text>
<rect x="423.50" y="228.40" width="45.00" height="44.80" fill="none" stroke="#d0d0d0" stroke-width="0.8"/>
<path d="M434.90,245.60 L434.90,244.70 L435.30,244.70 L435.70,244.70 L436.10,244.70 L436.50,244.56 L436.90,243.51 L437.30,242.68 L437.70,241.30 L438.10,238.76 L438.50,237.35 L438.90,236.18 L439.30,234.36 L439.70,233.99 L440.10,231.29 L440.50,229.71 L440.90,232.79 L441.30,235.39 L441.70,237.12 L442.10,239.49 L442.50,240.36 L442.90,241.11 L443.30,242.84 L443.70,244.11 L444.10,244.70 L444.50,244.70 L444.90,244.70 L445.30,244.70 L445.70,244.70 L446.10,244.70 L446.50,244.70 L446.90,244.70 L447.30,244.70 L447.70,244.70 L448.10,244.70 L448.50,244.70 L448.50,245.60Z " fill="#8a8a8a"/>
<path d="M434.50,254.90 L434.50,254.00 L434.90,254.00 L435.30,254.00 L435.70,254.00 L436.10,253.59 L436.50,252.04 L436.90,249.83 L437.30,248.40 L437.70,246.53 L438.10,244.80 L438.50,243.97 L438.90,239.78 L439.30,236.46 L439.70,239.99 L440.10,241.86 L440.50,243.94 L440.90,246.25 L441.30,246.15 L441.70,246.97 L442.10,249.17 L442.50,250.45 L442.90,251.74 L443.30,252.87 L443.70,253.45 L444.10,254.00 L444.50,254.00 L444.90,254.00 L445.30,254.00 L445.70,254.00 L446.10,254.00 L446.50,254.00 L446.90,254.00 L447.30,254.00 L447.70,254.00 L448.10,254.00 L448.50,254.00 L448.50,254.90Z " fill="#000"/>
<path d="M427.30,263.90 L427.30,263.00 L427.70,263.00 L428.10,263.00 L428.50,261.54 L428.90,258.06 L429.30,253.00 L429.70,249.10 L430.10,251.27 L430.50,256.11 L430.90,260.22 L431.30,258.83 L431.70,255.30 L432.10,254.41 L432.50,257.25 L432.90,259.39 L433.30,257.30 L433.70,252.59 L434.10,253.54 L434.50,257.66 L434.90,258.58 L435.30,256.64 L435.70,257.27 L436.10,258.50 L436.50,254.67 L436.90,251.77 L437.30,253.58 L437.70,257.71 L438.10,260.72 L438.50,258.84 L438.90,256.69 L439.30,258.30 L439.70,259.96 L440.10,261.70 L440.50,262.79 L440.90,261.61 L441.30,260.54 L441.70,259.82 L442.10,259.20 L442.50,260.62 L442.90,261.55 L443.30,262.07 L443.70,262.84 L444.10,262.16 L444.50,261.22 L444.90,260.52 L445.30,260.89 L445.70,261.39 L446.10,262.44 L446.50,263.29 L446.50,263.90Z " fill="#14b014"/>
<path d="M429.70,273.20 L429.70,272.30 L430.10,272.30 L430.50,272.30 L430.90,272.24 L431.30,271.36 L431.70,270.83 L432.10,270.21 L432.50,268.68 L432.90,267.75 L433.30,267.24 L433.70,266.32 L434.10,266.44 L434.50,265.73 L434.90,263.22 L435.30,262.49 L435.70,262.33 L436.10,261.41 L436.50,262.13 L436.90,261.03 L437.30,257.60 L437.70,257.33 L438.10,257.83 L438.50,258.31 L438.90,260.54 L439.30,260.18 L439.70,258.28 L440.10,259.75 L440.50,261.07 L440.90,261.60 L441.30,263.34 L441.70,262.86 L442.10,261.69 L442.50,263.18 L442.90,264.26 L443.30,264.80 L443.70,266.08 L444.10,265.70 L444.50,265.20 L444.90,266.55 L445.30,267.38 L445.70,267.91 L446.10,268.82 L446.50,268.70 L446.90,268.76 L447.30,269.81 L447.70,270.45 L448.10,270.97 L448.50,271.59 L448.90,271.86 L449.30,272.30 L449.70,272.30 L450.10,272.30 L450.50,272.30 L450.90,272.30 L451.30,272.30 L451.70,272.30 L452.10,272.30 L452.50,272.30 L452.90,272.30 L453.30,272.30 L453.70,272.30 L453.70,273.20Z " fill="#e80000"/>
<line x1="423.50" y1="273.50" x2="468.50" y2="273.50" stroke="#444" stroke-width="1"/>
<line x1="425.50" y1="273.50" x2="425.50" y2="274.80" stroke="#909090" stroke-width="0.6"/>
<line x1="433.00" y1="273.50" x2="433.00" y2="274.80" stroke="#909090" stroke-width="0.6"/>
<line x1="444.00" y1="273.50" x2="444.00" y2="274.80" stroke="#909090" stroke-width="0.6"/>
<line x1="452.60" y1="273.50" x2="452.60" y2="274.80" stroke="#909090" stroke-width="0.6"/>
<line x1="463.00" y1="273.50" x2="463.00" y2="274.80" stroke="#909090" stroke-width="0.6"/>
<text x="425.50" y="277.20" font-size="2.8" fill="#999" text-anchor="middle">0</text>
<text x="433.00" y="277.20" font-size="2.8" fill="#999" text-anchor="middle">10²</text>
<text x="444.00" y="277.20" font-size="2.8" fill="#999" text-anchor="middle">10³</text>
<text x="452.60" y="277.20" font-size="2.8" fill="#999" text-anchor="middle">10⁴</text>
<text x="463.00" y="277.20" font-size="2.8" fill="#999" text-anchor="middle">10⁵</text>
<rect x="469.90" y="228.40" width="45.00" height="44.80" fill="none" stroke="#d0d0d0" stroke-width="0.8"/>
<path d="M471.30,245.60 L471.30,244.70 L471.70,244.70 L472.10,244.70 L472.50,244.70 L472.90,244.70 L473.30,244.31 L473.70,243.50 L474.10,243.16 L474.50,242.54 L474.90,241.22 L475.30,240.30 L475.70,238.93 L476.10,238.21 L476.50,240.41 L476.90,241.04 L477.30,238.98 L477.70,237.59 L478.10,235.48 L478.50,233.75 L478.90,237.27 L479.30,238.43 L479.70,238.16 L480.10,236.44 L480.50,233.85 L480.90,231.96 L481.30,233.45 L481.70,234.59 L482.10,235.15 L482.50,237.35 L482.90,238.82 L483.30,239.72 L483.70,239.60 L484.10,238.36 L484.50,238.85 L484.90,240.38 L485.30,241.40 L485.70,242.75 L486.10,244.02 L486.50,244.62 L486.90,244.70 L487.30,244.70 L487.70,244.70 L488.10,244.70 L488.50,244.70 L488.90,244.70 L489.30,244.70 L489.70,244.70 L490.10,244.70 L490.50,244.70 L490.90,244.70 L490.90,245.60Z " fill="#8a8a8a"/>
<path d="M474.10,254.90 L474.10,254.65 L474.50,254.55 L474.90,254.48 L475.30,254.48 L475.70,254.37 L476.10,254.22 L476.50,254.14 L476.90,253.96 L477.30,253.92 L477.70,254.08 L478.10,254.09 L478.50,254.12 L478.90,254.23 L479.30,254.27 L479.70,254.42 L480.10,254.56 L480.50,254.59 L480.90,254.64 L480.90,254.90Z M486.10,254.90 L486.10,254.00 L486.50,254.00 L486.90,254.00 L487.30,254.00 L487.70,253.10 L488.10,251.61 L488.50,250.07 L488.90,248.11 L489.30,247.38 L489.70,245.86 L490.10,241.73 L490.50,239.34 L490.90,239.62 L491.30,241.48 L491.70,245.14 L492.10,246.71 L492.50,246.87 L492.90,248.71 L493.30,250.42 L493.70,251.80 L494.10,253.30 L494.50,254.00 L494.90,254.00 L495.30,254.00 L495.70,254.00 L496.10,254.00 L496.50,254.00 L496.90,254.00 L497.30,254.00 L497.70,254.00 L498.10,254.00 L498.50,254.00 L498.90,254.00 L498.90,254.90Z " fill="#000"/>
<path d="M471.70,263.90 L471.70,263.41 L472.10,262.62 L472.50,261.94 L472.90,260.59 L473.30,259.13 L473.70,259.07 L474.10,260.06 L474.50,261.65 L474.90,261.44 L475.30,260.04 L475.70,259.89 L476.10,260.94 L476.50,261.80 L476.90,261.94 L477.30,261.16 L477.70,259.44 L478.10,258.61 L478.50,259.93 L478.90,261.04 L479.30,262.47 L479.70,263.35 L479.70,263.90Z M484.10,263.90 L484.10,263.00 L484.50,263.00 L484.90,263.00 L485.30,263.00 L485.70,262.22 L486.10,260.90 L486.50,260.13 L486.90,258.58 L487.30,255.78 L487.70,254.07 L488.10,251.91 L488.50,249.96 L488.90,252.23 L489.30,253.34 L489.70,253.67 L490.10,256.00 L490.50,257.75 L490.90,259.55 L491.30,261.46 L491.70,262.39 L492.10,263.00 L492.50,263.00 L492.90,263.00 L493.30,263.00 L493.70,263.00 L494.10,263.00 L494.50,263.00 L494.90,263.00 L495.30,263.00 L495.70,263.00 L496.10,263.00 L496.10,263.90Z " fill="#14b014"/>
<path d="M483.30,273.20 L483.30,272.30 L483.70,272.30 L484.10,272.30 L484.50,272.30 L484.90,272.28 L485.30,271.78 L485.70,270.76 L486.10,269.44 L486.50,268.50 L486.90,267.10 L487.30,266.38 L487.70,266.28 L488.10,263.87 L488.50,261.50 L488.90,260.59 L489.30,258.57 L489.70,258.44 L490.10,258.88 L490.50,257.67 L490.90,258.02 L491.30,260.25 L491.70,261.27 L492.10,263.70 L492.50,265.65 L492.90,265.33 L493.30,266.15 L493.70,267.68 L494.10,268.62 L494.50,270.02 L494.90,270.99 L495.30,271.36 L495.70,272.08 L496.10,272.30 L496.50,272.30 L496.90,272.30 L497.30,272.30 L497.70,272.30 L498.10,272.30 L498.50,272.30 L498.90,272.30 L499.30,272.30 L499.70,272.30 L500.10,272.30 L500.50,272.30 L500.50,273.20Z " fill="#e80000"/>
<line x1="469.90" y1="273.50" x2="514.90" y2="273.50" stroke="#444" stroke-width="1"/>
<line x1="471.90" y1="273.50" x2="471.90" y2="274.80" stroke="#909090" stroke-width="0.6"/>
<line x1="479.40" y1="273.50" x2="479.40" y2="274.80" stroke="#909090" stroke-width="0.6"/>
<line x1="490.40" y1="273.50" x2="490.40" y2="274.80" stroke="#909090" stroke-width="0.6"/>
<line x1="499.00" y1="273.50" x2="499.00" y2="274.80" stroke="#909090" stroke-width="0.6"/>
<line x1="509.40" y1="273.50" x2="509.40" y2="274.80" stroke="#909090" stroke-width="0.6"/>
<text x="471.90" y="277.20" font-size="2.8" fill="#999" text-anchor="middle">0</text>
<text x="479.40" y="277.20" font-size="2.8" fill="#999" text-anchor="middle">10²</text>
<text x="490.40" y="277.20" font-size="2.8" fill="#999" text-anchor="middle">10³</text>
<text x="499.00" y="277.20" font-size="2.8" fill="#999" text-anchor="middle">10⁴</text>
<text x="509.40" y="277.20" font-size="2.8" fill="#999" text-anchor="middle">10⁵</text>
<rect x="331.20" y="279.90" width="45.00" height="45.70" fill="none" stroke="#d0d0d0" stroke-width="0.8"/>
<path d="M341.80,298.60 L341.80,297.70 L342.20,297.70 L342.60,297.70 L343.00,297.70 L343.40,297.10 L343.80,296.08 L344.20,294.66 L344.60,293.38 L345.00,291.21 L345.40,289.81 L345.80,289.96 L346.20,287.90 L346.60,285.23 L347.00,283.49 L347.40,283.16 L347.80,286.19 L348.20,290.01 L348.60,291.00 L349.00,292.18 L349.40,293.86 L349.80,295.04 L350.20,296.64 L350.60,297.70 L351.00,297.70 L351.40,297.70 L351.80,297.70 L352.20,297.70 L352.60,297.70 L353.00,297.70 L353.40,297.70 L353.80,297.70 L354.20,297.70 L354.60,297.70 L355.00,297.70 L355.00,298.60Z " fill="#8a8a8a"/>
<path d="M344.60,307.60 L344.60,306.70 L345.00,306.70 L345.40,306.66 L345.80,306.14 L346.20,305.70 L346.60,304.50 L347.00,302.48 L347.40,301.45 L347.80,300.62 L348.20,297.73 L348.60,295.37 L349.00,292.77 L349.40,291.63 L349.80,295.98 L350.20,298.91 L350.60,299.53 L351.00,301.25 L351.40,302.84 L351.80,303.33 L352.20,304.24 L352.60,304.71 L353.00,304.50 L353.40,304.77 L353.80,305.00 L354.20,305.23 L354.60,305.90 L355.00,306.25 L355.40,306.37 L355.80,306.70 L356.20,306.70 L356.60,306.70 L356.60,307.60Z " fill="#000"/>
<path d="M345.40,316.40 L345.40,315.50 L345.80,315.50 L346.20,315.50 L346.60,315.02 L347.00,313.43 L347.40,312.42 L347.80,311.76 L348.20,309.75 L348.60,308.05 L349.00,306.36 L349.40,303.85 L349.80,304.03 L350.20,305.54 L350.60,304.59 L351.00,305.00 L351.40,305.49 L351.80,305.56 L352.20,307.81 L352.60,309.12 L353.00,308.60 L353.40,309.17 L353.80,309.72 L354.20,310.15 L354.60,311.75 L355.00,312.55 L355.40,312.53 L355.80,313.17 L356.20,313.76 L356.60,314.35 L357.00,315.22 L357.40,315.50 L357.80,315.50 L358.20,315.50 L358.60,315.50 L359.00,315.50 L359.40,315.50 L359.80,315.50 L360.20,315.50 L360.60,315.50 L361.00,315.50 L361.40,315.50 L361.80,315.50 L361.80,316.40Z " fill="#14b014"/>
<path d="M342.60,325.60 L342.60,324.70 L343.00,324.70 L343.40,324.70 L343.80,324.70 L344.20,323.86 L344.60,322.61 L345.00,320.87 L345.40,319.42 L345.80,317.02 L346.20,315.42 L346.60,316.43 L347.00,317.23 L347.40,317.76 L347.80,319.11 L348.20,319.82 L348.60,321.33 L349.00,323.06 L349.40,323.73 L349.80,323.42 L350.20,323.31 L350.60,322.96 L351.00,323.03 L351.40,323.52 L351.80,323.36 L352.20,323.26 L352.60,323.38 L353.00,323.30 L353.40,323.61 L353.80,323.99 L354.20,323.86 L354.60,323.86 L355.00,324.01 L355.40,324.04 L355.80,324.35 L356.20,324.65 L356.60,324.68 L357.00,324.88 L357.40,325.31 L357.40,325.60Z " fill="#e80000"/>
<line x1="331.20" y1="325.90" x2="376.20" y2="325.90" stroke="#444" stroke-width="1"/>
<line x1="333.20" y1="325.90" x2="333.20" y2="327.20" stroke="#909090" stroke-width="0.6"/>
<line x1="340.70" y1="325.90" x2="340.70" y2="327.20" stroke="#909090" stroke-width="0.6"/>
<line x1="351.70" y1="325.90" x2="351.70" y2="327.20" stroke="#909090" stroke-width="0.6"/>
<line x1="360.30" y1="325.90" x2="360.30" y2="327.20" stroke="#909090" stroke-width="0.6"/>
<line x1="370.70" y1="325.90" x2="370.70" y2="327.20" stroke="#909090" stroke-width="0.6"/>
<text x="333.20" y="329.60" font-size="2.8" fill="#999" text-anchor="middle">0</text>
<text x="340.70" y="329.60" font-size="2.8" fill="#999" text-anchor="middle">10²</text>
<text x="351.70" y="329.60" font-size="2.8" fill="#999" text-anchor="middle">10³</text>
<text x="360.30" y="329.60" font-size="2.8" fill="#999" text-anchor="middle">10⁴</text>
<text x="370.70" y="329.60" font-size="2.8" fill="#999" text-anchor="middle">10⁵</text>
<rect x="377.50" y="279.90" width="45.00" height="45.70" fill="none" stroke="#d0d0d0" stroke-width="0.8"/>
<path d="M378.90,298.60 L378.90,297.70 L379.30,297.70 L379.70,297.70 L380.10,297.70 L380.50,297.70 L380.90,297.28 L381.30,296.85 L381.70,295.87 L382.10,294.73 L382.50,294.39 L382.90,293.70 L383.30,292.95 L383.70,292.54 L384.10,290.47 L384.50,288.69 L384.90,288.97 L385.30,289.84 L385.70,291.17 L386.10,292.08 L386.50,289.93 L386.90,288.48 L387.30,289.00 L387.70,288.17 L388.10,287.42 L388.50,286.85 L388.90,283.50 L389.30,284.95 L389.70,288.38 L390.10,289.70 L390.50,291.14 L390.90,292.45 L391.30,292.68 L391.70,294.04 L392.10,295.73 L392.50,296.60 L392.90,297.44 L393.30,297.70 L393.70,297.70 L394.10,297.70 L394.50,297.70 L394.90,297.70 L395.30,297.70 L395.70,297.70 L396.10,297.70 L396.50,297.70 L396.90,297.70 L397.30,297.70 L397.70,297.70 L397.70,298.60Z " fill="#8a8a8a"/>
<path d="M379.30,307.60 L379.30,306.70 L379.70,306.70 L380.10,306.70 L380.50,306.70 L380.90,306.70 L381.30,306.70 L381.70,306.31 L382.10,305.99 L382.50,305.47 L382.90,305.07 L383.30,304.58 L383.70,303.26 L384.10,302.54 L384.50,302.50 L384.90,301.73 L385.30,301.39 L385.70,300.63 L386.10,298.34 L386.50,297.75 L386.90,298.19 L387.30,297.14 L387.70,296.90 L388.10,295.70 L388.50,292.41 L388.90,292.33 L389.30,295.04 L389.70,295.48 L390.10,296.88 L390.50,297.12 L390.90,296.28 L391.30,298.11 L391.70,299.94 L392.10,300.35 L392.50,301.36 L392.90,301.62 L393.30,301.53 L393.70,302.90 L394.10,303.98 L394.50,304.39 L394.90,305.06 L395.30,305.39 L395.70,305.72 L396.10,306.44 L396.50,306.70 L396.90,306.70 L397.30,306.70 L397.70,306.70 L398.10,306.70 L398.50,306.70 L398.90,306.70 L399.30,306.70 L399.70,306.70 L400.10,306.70 L400.50,306.70 L400.90,306.70 L401.30,306.70 L401.30,307.60Z " fill="#000"/>
<path d="M382.50,316.40 L382.50,315.90 L382.90,315.53 L383.30,315.12 L383.70,314.27 L384.10,313.59 L384.50,313.34 L384.90,312.65 L385.30,313.16 L385.70,313.77 L386.10,313.91 L386.50,314.57 L386.90,315.18 L387.30,314.88 L387.70,314.68 L388.10,314.36 L388.50,313.59 L388.90,313.36 L389.30,313.42 L389.70,312.98 L390.10,312.78 L390.50,312.26 L390.90,311.07 L391.30,311.04 L391.70,311.31 L392.10,310.69 L392.50,310.51 L392.90,309.71 L393.30,308.13 L393.70,308.48 L394.10,309.22 L394.50,309.03 L394.90,308.46 L395.30,306.91 L395.70,304.57 L396.10,305.65 L396.50,307.97 L396.90,308.69 L397.30,310.11 L397.70,310.53 L398.10,308.49 L398.50,308.35 L398.90,307.79 L399.30,305.76 L399.70,304.62 L400.10,301.82 L400.50,299.87 L400.90,304.27 L401.30,306.62 L401.70,307.47 L402.10,309.22 L402.50,310.08 L402.90,311.36 L403.30,313.44 L403.70,314.60 L404.10,315.42 L404.50,315.50 L404.90,315.50 L405.30,315.50 L405.70,315.50 L406.10,315.50 L406.50,315.50 L406.90,315.50 L407.30,315.50 L407.70,315.50 L408.10,315.50 L408.50,315.50 L408.50,316.40Z " fill="#14b014"/>
<path d="M379.30,325.60 L379.30,325.36 L379.70,324.70 L380.10,324.70 L380.50,324.17 L380.90,323.88 L381.30,323.51 L381.70,323.06 L382.10,323.06 L382.50,323.19 L382.90,322.91 L383.30,322.59 L383.70,322.07 L384.10,321.44 L384.50,321.09 L384.90,319.55 L385.30,319.42 L385.70,320.95 L386.10,321.77 L386.50,322.44 L386.90,323.19 L387.30,321.66 L387.70,319.14 L388.10,317.86 L388.50,315.65 L388.90,313.22 L389.30,316.07 L389.70,316.95 L390.10,318.32 L390.50,318.37 L390.90,317.29 L391.30,317.86 L391.70,319.03 L392.10,319.00 L392.50,318.08 L392.90,317.04 L393.30,314.47 L393.70,314.50 L394.10,316.89 L394.50,317.97 L394.90,320.52 L395.30,323.03 L395.70,322.43 L396.10,321.69 L396.50,320.82 L396.90,319.05 L397.30,319.91 L397.70,321.52 L398.10,322.05 L398.50,322.76 L398.90,323.36 L399.30,323.76 L399.70,324.52 L400.10,324.70 L400.50,324.70 L400.90,324.70 L401.30,324.70 L401.70,324.70 L402.10,324.70 L402.50,324.70 L402.90,324.70 L403.30,324.70 L403.70,324.70 L404.10,324.70 L404.50,324.70 L404.50,325.60Z " fill="#e80000"/>
<line x1="377.50" y1="325.90" x2="422.50" y2="325.90" stroke="#444" stroke-width="1"/>
<line x1="379.50" y1="325.90" x2="379.50" y2="327.20" stroke="#909090" stroke-width="0.6"/>
<line x1="387.00" y1="325.90" x2="387.00" y2="327.20" stroke="#909090" stroke-width="0.6"/>
<line x1="398.00" y1="325.90" x2="398.00" y2="327.20" stroke="#909090" stroke-width="0.6"/>
<line x1="406.60" y1="325.90" x2="406.60" y2="327.20" stroke="#909090" stroke-width="0.6"/>
<line x1="417.00" y1="325.90" x2="417.00" y2="327.20" stroke="#909090" stroke-width="0.6"/>
<text x="379.50" y="329.60" font-size="2.8" fill="#999" text-anchor="middle">0</text>
<text x="387.00" y="329.60" font-size="2.8" fill="#999" text-anchor="middle">10²</text>
<text x="398.00" y="329.60" font-size="2.8" fill="#999" text-anchor="middle">10³</text>
<text x="406.60" y="329.60" font-size="2.8" fill="#999" text-anchor="middle">10⁴</text>
<text x="417.00" y="329.60" font-size="2.8" fill="#999" text-anchor="middle">10⁵</text>
<rect x="423.50" y="279.90" width="45.00" height="45.70" fill="none" stroke="#d0d0d0" stroke-width="0.8"/>
<path d="M434.50,298.60 L434.50,297.70 L434.90,297.70 L435.30,297.70 L435.70,297.70 L436.10,297.16 L436.50,296.08 L436.90,295.32 L437.30,293.93 L437.70,291.37 L438.10,290.08 L438.50,288.94 L438.90,287.21 L439.30,286.97 L439.70,285.14 L440.10,284.75 L440.50,287.56 L440.90,289.84 L441.30,291.45 L441.70,293.54 L442.10,294.34 L442.50,295.11 L442.90,296.60 L443.30,297.65 L443.70,297.70 L444.10,297.70 L444.50,297.70 L444.90,297.70 L445.30,297.70 L445.70,297.70 L446.10,297.70 L446.50,297.70 L446.90,297.70 L447.30,297.70 L447.70,297.70 L447.70,298.60Z " fill="#8a8a8a"/>
<path d="M434.50,307.60 L434.50,306.70 L434.90,306.70 L435.30,306.70 L435.70,306.70 L436.10,306.04 L436.50,305.22 L436.90,303.55 L437.30,301.32 L437.70,300.21 L438.10,298.60 L438.50,297.18 L438.90,296.63 L439.30,292.74 L439.70,289.93 L440.10,293.76 L440.50,295.91 L440.90,298.21 L441.30,300.56 L441.70,300.96 L442.10,302.16 L442.50,304.19 L442.90,305.47 L443.30,306.59 L443.70,306.70 L444.10,306.70 L444.50,306.70 L444.90,306.70 L445.30,306.70 L445.70,306.70 L446.10,306.70 L446.50,306.70 L446.90,306.70 L447.30,306.70 L447.70,306.70 L447.70,307.60Z " fill="#000"/>
<path d="M436.90,316.40 L436.90,315.50 L437.30,315.50 L437.70,315.50 L438.10,315.31 L438.50,314.35 L438.90,313.93 L439.30,312.90 L439.70,311.82 L440.10,311.41 L440.50,310.35 L440.90,309.38 L441.30,308.89 L441.70,306.16 L442.10,304.37 L442.50,307.09 L442.90,308.54 L443.30,308.93 L443.70,309.17 L444.10,306.51 L444.50,303.48 L444.90,302.85 L445.30,300.67 L445.70,303.50 L446.10,306.10 L446.50,306.01 L446.90,305.98 L447.30,306.58 L447.70,304.52 L448.10,302.94 L448.50,303.26 L448.90,303.00 L449.30,305.24 L449.70,308.63 L450.10,308.77 L450.50,308.00 L450.90,309.22 L451.30,309.18 L451.70,310.65 L452.10,312.32 L452.50,312.74 L452.90,313.43 L453.30,314.02 L453.70,314.54 L454.10,315.50 L454.50,315.50 L454.90,315.50 L455.30,315.50 L455.70,315.50 L456.10,315.50 L456.50,315.50 L456.90,315.50 L457.30,315.50 L457.70,315.50 L458.10,315.50 L458.10,316.40Z " fill="#14b014"/>
<path d="M433.30,325.60 L433.30,324.70 L433.70,324.70 L434.10,324.70 L434.50,324.32 L434.90,322.79 L435.30,321.54 L435.70,319.76 L436.10,316.10 L436.50,313.74 L436.90,312.02 L437.30,310.52 L437.70,314.41 L438.10,316.09 L438.50,316.46 L438.90,318.93 L439.30,321.16 L439.70,321.44 L440.10,320.58 L440.50,318.69 L440.90,315.41 L441.30,317.00 L441.70,319.23 L442.10,320.77 L442.50,322.55 L442.90,321.91 L443.30,320.22 L443.70,319.65 L444.10,319.51 L444.50,320.50 L444.90,321.82 L445.30,322.25 L445.70,322.72 L446.10,323.81 L446.50,323.59 L446.90,323.24 L447.30,323.10 L447.70,322.72 L448.10,322.82 L448.50,323.52 L448.90,323.94 L449.30,324.24 L449.70,324.60 L450.10,324.70 L450.50,324.70 L450.90,324.70 L451.30,324.70 L451.30,325.60Z " fill="#e80000"/>
<line x1="423.50" y1="325.90" x2="468.50" y2="325.90" stroke="#444" stroke-width="1"/>
<line x1="425.50" y1="325.90" x2="425.50" y2="327.20" stroke="#909090" stroke-width="0.6"/>
<line x1="433.00" y1="325.90" x2="433.00" y2="327.20" stroke="#909090" stroke-width="0.6"/>
<line x1="444.00" y1="325.90" x2="444.00" y2="327.20" stroke="#909090" stroke-width="0.6"/>
<line x1="452.60" y1="325.90" x2="452.60" y2="327.20" stroke="#909090" stroke-width="0.6"/>
<line x1="463.00" y1="325.90" x2="463.00" y2="327.20" stroke="#909090" stroke-width="0.6"/>
<text x="425.50" y="329.60" font-size="2.8" fill="#999" text-anchor="middle">0</text>
<text x="433.00" y="329.60" font-size="2.8" fill="#999" text-anchor="middle">10²</text>
<text x="444.00" y="329.60" font-size="2.8" fill="#999" text-anchor="middle">10³</text>
<text x="452.60" y="329.60" font-size="2.8" fill="#999" text-anchor="middle">10⁴</text>
<text x="463.00" y="329.60" font-size="2.8" fill="#999" text-anchor="middle">10⁵</text>
<rect x="469.90" y="279.90" width="45.00" height="45.70" fill="none" stroke="#d0d0d0" stroke-width="0.8"/>
<path d="M470.50,298.60 L470.50,297.70 L470.90,297.70 L471.30,297.70 L471.70,297.70 L472.10,297.70 L472.50,297.64 L472.90,297.16 L473.30,296.61 L473.70,296.52 L474.10,296.16 L474.50,295.30 L474.90,294.77 L475.30,293.91 L475.70,293.18 L476.10,293.59 L476.50,293.03 L476.90,291.58 L477.30,292.00 L477.70,291.98 L478.10,291.22 L478.50,291.87 L478.90,290.92 L479.30,289.02 L479.70,288.36 L480.10,286.83 L480.50,286.25 L480.90,287.66 L481.30,286.03 L481.70,284.12 L482.10,286.34 L482.50,287.52 L482.90,289.74 L483.30,292.56 L483.70,293.29 L484.10,294.09 L484.50,295.52 L484.90,296.57 L485.30,297.66 L485.70,297.70 L486.10,297.70 L486.50,297.70 L486.90,297.70 L487.30,297.70 L487.70,297.70 L488.10,297.70 L488.50,297.70 L488.90,297.70 L489.30,297.70 L489.70,297.70 L489.70,298.60Z " fill="#8a8a8a"/>
<path d="M487.30,307.60 L487.30,306.70 L487.70,306.70 L488.10,306.70 L488.50,306.70 L488.90,305.79 L489.30,304.54 L489.70,303.80 L490.10,302.65 L490.50,299.99 L490.90,298.26 L491.30,296.74 L491.70,294.72 L492.10,294.92 L492.50,294.80 L492.90,294.24 L493.30,296.46 L493.70,298.57 L494.10,300.25 L494.50,302.67 L494.90,303.74 L495.30,304.42 L495.70,305.76 L496.10,306.70 L496.50,306.70 L496.90,306.70 L497.30,306.70 L497.70,306.70 L498.10,306.70 L498.50,306.70 L498.90,306.70 L499.30,306.70 L499.70,306.70 L500.10,306.70 L500.50,306.70 L500.50,307.60Z " fill="#000"/>
<path d="M485.70,316.40 L485.70,315.50 L486.10,315.50 L486.50,315.50 L486.90,315.50 L487.30,315.07 L487.70,314.43 L488.10,313.04 L488.50,311.82 L488.90,310.79 L489.30,309.35 L489.70,309.16 L490.10,308.32 L490.50,305.17 L490.90,303.53 L491.30,302.42 L491.70,300.57 L492.10,304.55 L492.50,306.30 L492.90,306.08 L493.30,307.99 L493.70,309.91 L494.10,311.39 L494.50,313.30 L494.90,314.32 L495.30,315.05 L495.70,315.50 L496.10,315.50 L496.50,315.50 L496.90,315.50 L497.30,315.50 L497.70,315.50 L498.10,315.50 L498.50,315.50 L498.90,315.50 L499.30,315.50 L499.70,315.50 L499.70,316.40Z " fill="#14b014"/>
<path d="M471.70,325.60 L471.70,325.20 L472.10,325.05 L472.50,324.86 L472.90,324.48 L473.30,324.17 L473.70,323.75 L474.10,323.47 L474.50,324.13 L474.90,324.48 L475.30,324.61 L475.70,324.89 L476.10,324.92 L476.50,324.59 L476.90,324.48 L477.30,324.20 L477.70,323.63 L478.10,323.46 L478.50,323.73 L478.90,324.10 L479.30,324.65 L479.70,324.90 L480.10,325.05 L480.50,324.83 L480.90,324.52 L481.30,324.25 L481.70,324.23 L482.10,324.01 L482.50,324.10 L482.90,324.43 L483.30,324.65 L483.70,324.94 L484.10,325.24 L484.50,325.39 L484.50,325.60Z M486.10,325.60 L486.10,324.70 L486.50,324.70 L486.90,324.70 L487.30,324.70 L487.70,324.31 L488.10,323.32 L488.50,322.50 L488.90,321.99 L489.30,320.22 L489.70,318.31 L490.10,317.31 L490.50,315.54 L490.90,315.00 L491.30,314.93 L491.70,311.31 L492.10,311.79 L492.50,314.05 L492.90,315.18 L493.30,317.44 L493.70,319.25 L494.10,319.17 L494.50,320.06 L494.90,321.51 L495.30,322.45 L495.70,323.62 L496.10,324.44 L496.50,324.70 L496.90,324.70 L497.30,324.70 L497.70,324.70 L498.10,324.70 L498.50,324.70 L498.90,324.70 L499.30,324.70 L499.70,324.70 L500.10,324.70 L500.50,324.70 L500.90,324.70 L500.90,325.60Z " fill="#e80000"/>
<line x1="469.90" y1="325.90" x2="514.90" y2="325.90" stroke="#444" stroke-width="1"/>
<line x1="471.90" y1="325.90" x2="471.90" y2="327.20" stroke="#909090" stroke-width="0.6"/>
<line x1="479.40" y1="325.90" x2="479.40" y2="327.20" stroke="#909090" stroke-width="0.6"/>
<line x1="490.40" y1="325.90" x2="490.40" y2="327.20" stroke="#909090" stroke-width="0.6"/>
<line x1="499.00" y1="325.90" x2="499.00" y2="327.20" stroke="#909090" stroke-width="0.6"/>
<line x1="509.40" y1="325.90" x2="509.40" y2="327.20" stroke="#909090" stroke-width="0.6"/>
<text x="471.90" y="329.60" font-size="2.8" fill="#999" text-anchor="middle">0</text>
<text x="479.40" y="329.60" font-size="2.8" fill="#999" text-anchor="middle">10²</text>
<text x="490.40" y="329.60" font-size="2.8" fill="#999" text-anchor="middle">10³</text>
<text x="499.00" y="329.60" font-size="2.8" fill="#999" text-anchor="middle">10⁴</text>
<text x="509.40" y="329.60" font-size="2.8" fill="#999" text-anchor="middle">10⁵</text>
<rect x="331.20" y="332.50" width="45.00" height="45.50" fill="none" stroke="#d0d0d0" stroke-width="0.8"/>
<path d="M338.20,350.20 L338.20,349.30 L338.60,349.30 L339.00,349.30 L339.40,349.30 L339.80,349.13 L340.20,348.19 L340.60,347.19 L341.00,345.95 L341.40,344.08 L341.80,343.50 L342.20,343.17 L342.60,342.65 L343.00,340.71 L343.40,338.21 L343.80,334.64 L344.20,337.53 L344.60,341.98 L345.00,344.09 L345.40,346.79 L345.80,348.94 L346.20,348.43 L346.60,348.05 L347.00,347.57 L347.40,347.95 L347.80,348.62 L348.20,349.18 L348.60,349.30 L349.00,349.30 L349.40,349.30 L349.80,349.30 L349.80,350.20Z " fill="#8a8a8a"/>
<path d="M343.00,359.40 L343.00,358.50 L343.40,358.50 L343.80,358.50 L344.20,358.46 L344.60,356.91 L345.00,354.49 L345.40,352.61 L345.80,351.62 L346.20,348.36 L346.60,346.39 L347.00,349.01 L347.40,350.75 L347.80,353.91 L348.20,354.62 L348.60,351.57 L349.00,348.38 L349.40,345.18 L349.80,343.93 L350.20,348.73 L350.60,352.46 L351.00,353.93 L351.40,356.01 L351.80,357.89 L352.20,358.50 L352.60,358.50 L353.00,358.50 L353.40,358.50 L353.80,358.50 L354.20,357.72 L354.60,356.12 L355.00,355.13 L355.40,356.14 L355.80,357.08 L356.20,358.34 L356.20,359.40Z M357.00,359.40 L357.00,358.72 L357.40,358.21 L357.80,358.56 L358.20,359.04 L358.20,359.40Z M361.40,359.40 L361.40,358.74 L361.80,358.03 L362.20,358.57 L362.60,359.08 L362.60,359.40Z " fill="#000"/>
<path d="M342.60,368.50 L342.60,367.60 L343.00,367.60 L343.40,367.60 L343.80,367.60 L344.20,367.60 L344.60,367.26 L345.00,366.92 L345.40,366.13 L345.80,365.25 L346.20,364.42 L346.60,363.02 L347.00,362.60 L347.40,362.70 L347.80,361.09 L348.20,359.69 L348.60,358.55 L349.00,356.41 L349.40,356.64 L349.80,357.28 L350.20,354.56 L350.60,352.75 L351.00,352.53 L351.40,352.53 L351.80,355.63 L352.20,357.98 L352.60,357.32 L353.00,357.99 L353.40,358.89 L353.80,359.36 L354.20,361.54 L354.60,362.89 L355.00,362.77 L355.40,363.50 L355.80,364.26 L356.20,364.89 L356.60,366.09 L357.00,366.78 L357.40,367.07 L357.80,367.60 L358.20,367.60 L358.60,367.60 L359.00,367.60 L359.40,367.60 L359.80,367.60 L360.20,367.60 L360.60,367.60 L361.00,367.60 L361.40,367.60 L361.80,367.60 L362.20,367.60 L362.60,367.60 L362.60,368.50Z " fill="#14b014"/>
<path d="M342.20,378.00 L342.20,377.10 L342.60,377.10 L343.00,377.10 L343.40,377.10 L343.80,377.10 L344.20,376.76 L344.60,376.03 L345.00,375.36 L345.40,375.25 L345.80,374.56 L346.20,373.47 L346.60,372.75 L347.00,371.34 L347.40,370.59 L347.80,371.16 L348.20,369.98 L348.60,368.23 L349.00,367.39 L349.40,365.33 L349.80,364.88 L350.20,366.28 L350.60,366.04 L351.00,365.73 L351.40,366.68 L351.80,366.56 L352.20,368.14 L352.60,370.38 L353.00,370.16 L353.40,370.22 L353.80,371.03 L354.20,371.24 L354.60,372.50 L355.00,373.84 L355.40,373.81 L355.80,374.11 L356.20,374.75 L356.60,375.12 L357.00,375.92 L357.40,376.58 L357.80,376.76 L358.20,377.10 L358.60,377.10 L359.00,377.10 L359.40,377.10 L359.80,377.10 L360.20,377.10 L360.60,377.10 L361.00,377.10 L361.40,377.10 L361.80,377.10 L362.20,377.10 L362.60,377.10 L363.00,377.10 L363.40,377.10 L363.40,378.00Z " fill="#e80000"/>
<line x1="331.20" y1="378.30" x2="376.20" y2="378.30" stroke="#444" stroke-width="1"/>
<line x1="333.20" y1="378.30" x2="333.20" y2="379.60" stroke="#909090" stroke-width="0.6"/>
<line x1="340.70" y1="378.30" x2="340.70" y2="379.60" stroke="#909090" stroke-width="0.6"/>
<line x1="351.70" y1="378.30" x2="351.70" y2="379.60" stroke="#909090" stroke-width="0.6"/>
<line x1="360.30" y1="378.30" x2="360.30" y2="379.60" stroke="#909090" stroke-width="0.6"/>
<line x1="370.70" y1="378.30" x2="370.70" y2="379.60" stroke="#909090" stroke-width="0.6"/>
<text x="333.20" y="382.00" font-size="2.8" fill="#999" text-anchor="middle">0</text>
<text x="340.70" y="382.00" font-size="2.8" fill="#999" text-anchor="middle">10²</text>
<text x="351.70" y="382.00" font-size="2.8" fill="#999" text-anchor="middle">10³</text>
<text x="360.30" y="382.00" font-size="2.8" fill="#999" text-anchor="middle">10⁴</text>
<text x="370.70" y="382.00" font-size="2.8" fill="#999" text-anchor="middle">10⁵</text>
<rect x="377.50" y="332.50" width="45.00" height="45.50" fill="none" stroke="#d0d0d0" stroke-width="0.8"/>
<path d="M378.10,350.20 L378.10,349.30 L378.50,349.06 L378.90,348.81 L379.30,348.98 L379.70,349.30 L380.10,349.30 L380.50,349.30 L380.90,349.30 L381.30,349.30 L381.70,349.30 L382.10,349.30 L382.50,349.30 L382.90,348.94 L383.30,349.15 L383.70,349.30 L384.10,349.30 L384.50,349.30 L384.90,349.30 L385.30,349.30 L385.70,349.30 L386.10,349.30 L386.50,349.30 L386.90,349.30 L387.30,349.30 L387.70,349.30 L388.10,349.30 L388.50,349.30 L388.90,349.30 L389.30,349.30 L389.70,349.30 L390.10,349.30 L390.50,349.30 L390.90,349.30 L391.30,349.30 L391.70,349.30 L392.10,349.30 L392.50,349.30 L392.90,349.30 L393.30,349.30 L393.70,349.30 L394.10,349.30 L394.50,349.02 L394.90,348.57 L395.30,348.96 L395.70,349.29 L396.10,349.30 L396.50,349.30 L396.90,349.30 L397.30,349.30 L397.70,349.30 L398.10,349.30 L398.50,349.30 L398.90,349.30 L399.30,349.30 L399.70,349.30 L400.10,349.30 L400.50,349.30 L400.90,349.30 L401.30,349.30 L401.70,349.30 L401.70,350.20Z " fill="#8a8a8a"/>
<path d="M380.90,359.40 L380.90,358.50 L381.30,358.50 L381.70,358.50 L382.10,358.50 L382.50,358.50 L382.90,358.50 L383.30,358.30 L383.70,357.94 L384.10,357.10 L384.50,356.44 L384.90,356.27 L385.30,355.68 L385.70,355.25 L386.10,353.06 L386.50,347.06 L386.90,341.77 L387.30,339.12 L387.70,338.81 L388.10,344.50 L388.50,348.93 L388.90,351.65 L389.30,355.58 L389.70,356.64 L390.10,357.10 L390.50,357.66 L390.90,358.07 L391.30,358.32 L391.70,358.50 L392.10,358.50 L392.50,358.50 L392.90,358.50 L393.30,358.50 L393.70,358.50 L394.10,358.50 L394.50,358.50 L394.90,358.50 L395.30,358.50 L395.70,358.50 L396.10,358.50 L396.50,358.50 L396.50,359.40Z " fill="#000"/>
<path d="M378.10,368.50 L378.10,367.43 L378.50,366.97 L378.90,366.49 L379.30,366.43 L379.70,366.19 L380.10,366.02 L380.50,365.96 L380.90,365.19 L381.30,364.64 L381.70,364.82 L382.10,364.59 L382.50,364.48 L382.90,364.45 L383.30,363.34 L383.70,362.81 L384.10,363.27 L384.50,363.00 L384.90,362.96 L385.30,362.88 L385.70,361.43 L386.10,361.03 L386.50,361.77 L386.90,361.43 L387.30,361.44 L387.70,361.23 L388.10,359.47 L388.50,359.32 L388.90,360.31 L389.30,359.86 L389.70,359.91 L390.10,359.50 L390.50,357.48 L390.90,357.70 L391.30,358.90 L391.70,358.29 L392.10,358.35 L392.50,357.69 L392.90,355.49 L393.30,356.17 L393.70,357.51 L394.10,356.69 L394.50,356.76 L394.90,355.81 L395.30,353.53 L395.70,354.74 L396.10,356.13 L396.50,355.06 L396.90,355.12 L397.30,353.86 L397.70,351.62 L398.10,353.40 L398.50,354.74 L398.90,353.39 L399.30,354.45 L399.70,354.45 L400.10,354.28 L400.50,357.43 L400.90,359.42 L401.30,359.73 L401.70,360.99 L402.10,361.50 L402.50,362.26 L402.90,364.35 L403.30,365.65 L403.70,366.50 L404.10,367.60 L404.50,367.60 L404.90,367.60 L405.30,367.60 L405.70,367.60 L406.10,367.60 L406.50,367.60 L406.90,367.60 L407.30,367.60 L407.70,367.60 L408.10,367.60 L408.10,368.50Z " fill="#14b014"/>
<path d="M378.10,378.00 L378.10,377.10 L378.50,377.10 L378.90,376.94 L379.30,376.54 L379.70,376.46 L380.10,376.38 L380.50,376.21 L380.90,376.23 L381.30,375.85 L381.70,375.34 L382.10,375.44 L382.50,375.42 L382.90,375.27 L383.30,375.37 L383.70,374.82 L384.10,374.27 L384.50,374.51 L384.90,374.47 L385.30,374.30 L385.70,374.37 L386.10,373.57 L386.50,372.94 L386.90,373.41 L387.30,373.36 L387.70,373.17 L388.10,373.24 L388.50,372.18 L388.90,371.60 L389.30,372.32 L389.70,372.21 L390.10,372.01 L390.50,372.02 L390.90,370.70 L391.30,370.27 L391.70,371.24 L392.10,371.03 L392.50,370.81 L392.90,370.72 L393.30,369.17 L393.70,368.96 L394.10,370.17 L394.50,369.81 L394.90,369.56 L395.30,369.33 L395.70,367.59 L396.10,367.70 L396.50,369.11 L396.90,368.54 L397.30,368.26 L397.70,367.87 L398.10,365.99 L398.50,366.50 L398.90,368.04 L399.30,367.22 L399.70,366.91 L400.10,366.34 L400.50,364.39 L400.90,365.37 L401.30,366.95 L401.70,365.83 L402.10,365.51 L402.50,364.74 L402.90,363.59 L403.30,366.34 L403.70,368.79 L404.10,368.91 L404.50,369.89 L404.90,370.55 L405.30,370.95 L405.70,372.88 L406.10,374.30 L406.50,374.79 L406.90,375.69 L407.30,376.47 L407.70,377.10 L408.10,377.10 L408.50,377.10 L408.90,377.10 L409.30,377.10 L409.70,377.10 L410.10,377.10 L410.50,377.10 L410.90,377.10 L411.30,377.10 L411.70,377.10 L412.10,377.10 L412.10,378.00Z " fill="#e80000"/>
<line x1="377.50" y1="378.30" x2="422.50" y2="378.30" stroke="#444" stroke-width="1"/>
<line x1="379.50" y1="378.30" x2="379.50" y2="379.60" stroke="#909090" stroke-width="0.6"/>
<line x1="387.00" y1="378.30" x2="387.00" y2="379.60" stroke="#909090" stroke-width="0.6"/>
<line x1="398.00" y1="378.30" x2="398.00" y2="379.60" stroke="#909090" stroke-width="0.6"/>
<line x1="406.60" y1="378.30" x2="406.60" y2="379.60" stroke="#909090" stroke-width="0.6"/>
<line x1="417.00" y1="378.30" x2="417.00" y2="379.60" stroke="#909090" stroke-width="0.6"/>
<text x="379.50" y="382.00" font-size="2.8" fill="#999" text-anchor="middle">0</text>
<text x="387.00" y="382.00" font-size="2.8" fill="#999" text-anchor="middle">10²</text>
<text x="398.00" y="382.00" font-size="2.8" fill="#999" text-anchor="middle">10³</text>
<text x="406.60" y="382.00" font-size="2.8" fill="#999" text-anchor="middle">10⁴</text>
<text x="417.00" y="382.00" font-size="2.8" fill="#999" text-anchor="middle">10⁵</text>
<rect x="423.50" y="332.50" width="45.00" height="45.50" fill="none" stroke="#d0d0d0" stroke-width="0.8"/>
<path d="M429.30,350.20 L429.30,349.30 L429.70,349.30 L430.10,349.30 L430.50,349.30 L430.90,349.30 L431.30,348.86 L431.70,347.82 L432.10,347.09 L432.50,346.12 L432.90,345.34 L433.30,345.05 L433.70,343.11 L434.10,341.76 L434.50,344.04 L434.90,345.09 L435.30,343.42 L435.70,342.24 L436.10,338.32 L436.50,334.38 L436.90,335.81 L437.30,338.36 L437.70,341.42 L438.10,344.09 L438.50,344.98 L438.90,346.68 L439.30,348.59 L439.70,349.30 L440.10,349.30 L440.50,349.30 L440.90,348.48 L441.30,347.30 L441.70,346.48 L442.10,345.21 L442.50,346.72 L442.90,347.85 L443.30,348.44 L443.70,349.30 L443.70,350.20Z " fill="#8a8a8a"/>
<path d="M433.70,359.40 L433.70,358.50 L434.10,358.50 L434.50,358.50 L434.90,358.50 L435.30,357.38 L435.70,356.21 L436.10,354.94 L436.50,353.49 L436.90,352.82 L437.30,350.43 L437.70,346.87 L438.10,345.80 L438.50,344.25 L438.90,346.01 L439.30,348.80 L439.70,348.72 L440.10,348.72 L440.50,351.03 L440.90,352.52 L441.30,353.83 L441.70,355.35 L442.10,355.74 L442.50,356.41 L442.90,357.61 L443.30,358.40 L443.70,358.50 L444.10,358.50 L444.50,358.50 L444.90,358.50 L445.30,358.50 L445.70,358.50 L446.10,358.50 L446.50,358.50 L446.90,358.50 L447.30,358.50 L447.70,358.50 L448.10,358.50 L448.10,359.40Z " fill="#000"/>
<path d="M429.70,368.50 L429.70,367.60 L430.10,367.60 L430.50,367.60 L430.90,367.60 L431.30,367.60 L431.70,367.60 L432.10,367.60 L432.50,367.42 L432.90,367.18 L433.30,366.90 L433.70,366.86 L434.10,366.49 L434.50,365.76 L434.90,365.56 L435.30,365.35 L435.70,365.05 L436.10,365.22 L436.50,364.59 L436.90,363.53 L437.30,363.50 L437.70,363.34 L438.10,363.07 L438.50,363.41 L438.90,362.43 L439.30,361.09 L439.70,361.34 L440.10,361.21 L440.50,361.01 L440.90,361.47 L441.30,360.01 L441.70,358.50 L442.10,359.13 L442.50,359.01 L442.90,358.88 L443.30,359.37 L443.70,357.38 L444.10,355.83 L444.50,356.90 L444.90,356.75 L445.30,356.69 L445.70,357.12 L446.10,354.54 L446.50,353.13 L446.90,354.68 L447.30,354.43 L447.70,354.44 L448.10,354.69 L448.50,351.52 L448.90,353.47 L449.30,357.68 L449.70,359.77 L450.10,361.97 L450.50,363.94 L450.90,365.08 L451.30,366.92 L451.70,367.60 L452.10,367.60 L452.50,367.60 L452.90,367.60 L453.30,367.60 L453.70,367.60 L454.10,367.60 L454.50,367.60 L454.90,367.60 L455.30,367.60 L455.70,367.60 L455.70,368.50Z " fill="#14b014"/>
<path d="M429.30,378.00 L429.30,377.10 L429.70,377.10 L430.10,377.10 L430.50,377.10 L430.90,377.10 L431.30,377.10 L431.70,377.10 L432.10,377.10 L432.50,376.84 L432.90,376.54 L433.30,376.39 L433.70,376.10 L434.10,376.08 L434.50,375.90 L434.90,375.15 L435.30,374.83 L435.70,374.76 L436.10,374.42 L436.50,374.57 L436.90,374.29 L437.30,373.16 L437.70,372.92 L438.10,372.97 L438.50,372.61 L438.90,372.93 L439.30,372.45 L439.70,370.94 L440.10,370.90 L440.50,371.08 L440.90,370.70 L441.30,371.18 L441.70,370.38 L442.10,368.55 L442.50,368.82 L442.90,369.11 L443.30,368.71 L443.70,369.32 L444.10,368.10 L444.50,366.02 L444.90,366.71 L445.30,367.08 L445.70,366.66 L446.10,367.32 L446.50,365.60 L446.90,363.40 L447.30,364.60 L447.70,364.99 L448.10,364.53 L448.50,365.19 L448.90,364.60 L449.30,364.50 L449.70,367.41 L450.10,369.02 L450.50,370.06 L450.90,371.55 L451.30,371.65 L451.70,372.32 L452.10,374.11 L452.50,375.14 L452.90,375.97 L453.30,376.82 L453.70,377.10 L454.10,377.10 L454.50,377.10 L454.90,377.10 L455.30,377.10 L455.70,377.10 L456.10,377.10 L456.50,377.10 L456.90,377.10 L457.30,377.10 L457.70,377.10 L458.10,377.10 L458.10,378.00Z " fill="#e80000"/>
<line x1="423.50" y1="378.30" x2="468.50" y2="378.30" stroke="#444" stroke-width="1"/>
<line x1="425.50" y1="378.30" x2="425.50" y2="379.60" stroke="#909090" stroke-width="0.6"/>
<line x1="433.00" y1="378.30" x2="433.00" y2="379.60" stroke="#909090" stroke-width="0.6"/>
<line x1="444.00" y1="378.30" x2="444.00" y2="379.60" stroke="#909090" stroke-width="0.6"/>
<line x1="452.60" y1="378.30" x2="452.60" y2="379.60" stroke="#909090" stroke-width="0.6"/>
<line x1="463.00" y1="378.30" x2="463.00" y2="379.60" stroke="#909090" stroke-width="0.6"/>
<text x="425.50" y="382.00" font-size="2.8" fill="#999" text-anchor="middle">0</text>
<text x="433.00" y="382.00" font-size="2.8" fill="#999" text-anchor="middle">10²</text>
<text x="444.00" y="382.00" font-size="2.8" fill="#999" text-anchor="middle">10³</text>
<text x="452.60" y="382.00" font-size="2.8" fill="#999" text-anchor="middle">10⁴</text>
<text x="463.00" y="382.00" font-size="2.8" fill="#999" text-anchor="middle">10⁵</text>
<rect x="469.90" y="332.50" width="45.00" height="45.50" fill="none" stroke="#d0d0d0" stroke-width="0.8"/>
<path d="M476.50,350.20 L476.50,349.30 L476.90,349.30 L477.30,349.30 L477.70,349.11 L478.10,347.17 L478.50,344.85 L478.90,341.63 L479.30,339.99 L479.70,338.47 L480.10,334.87 L480.50,337.64 L480.90,340.70 L481.30,343.16 L481.70,346.43 L482.10,348.51 L482.50,349.30 L482.90,349.30 L483.30,349.30 L483.70,349.30 L484.10,349.30 L484.50,349.30 L484.90,349.30 L485.30,349.30 L485.70,348.88 L486.10,348.17 L486.50,347.85 L486.90,347.87 L487.30,348.18 L487.70,348.88 L488.10,349.47 L488.50,349.94 L488.50,350.20Z " fill="#8a8a8a"/>
<path d="M489.70,359.40 L489.70,358.50 L490.10,358.50 L490.50,358.50 L490.90,358.50 L491.30,357.35 L491.70,355.80 L492.10,353.80 L492.50,352.70 L492.90,350.95 L493.30,346.61 L493.70,343.92 L494.10,345.91 L494.50,348.28 L494.90,351.84 L495.30,353.70 L495.70,354.62 L496.10,356.55 L496.50,358.15 L496.90,358.50 L497.30,358.50 L497.70,358.50 L498.10,358.50 L498.50,358.50 L498.90,358.50 L499.30,358.50 L499.70,358.50 L500.10,358.50 L500.50,358.50 L500.90,358.50 L500.90,359.40Z " fill="#000"/>
<path d="M475.30,368.50 L475.30,367.60 L475.70,367.60 L476.10,367.60 L476.50,367.60 L476.90,367.60 L477.30,367.53 L477.70,367.36 L478.10,366.88 L478.50,366.22 L478.90,365.77 L479.30,365.00 L479.70,364.65 L480.10,364.82 L480.50,363.86 L480.90,362.75 L481.30,362.24 L481.70,361.13 L482.10,361.05 L482.50,361.62 L482.90,359.96 L483.30,358.45 L483.70,357.99 L484.10,356.60 L484.50,357.01 L484.90,357.89 L485.30,355.31 L485.70,353.51 L486.10,353.17 L486.50,351.58 L486.90,353.80 L487.30,356.65 L487.70,355.84 L488.10,356.66 L488.50,358.48 L488.90,359.50 L489.30,361.77 L489.70,363.31 L490.10,363.40 L490.50,364.36 L490.90,365.53 L491.30,366.39 L491.70,367.38 L492.10,367.60 L492.50,367.60 L492.90,367.60 L493.30,367.60 L493.70,367.60 L494.10,367.60 L494.50,367.60 L494.90,367.60 L495.30,367.60 L495.70,367.60 L496.10,367.60 L496.50,367.60 L496.50,368.50Z " fill="#14b014"/>
<path d="M479.70,378.00 L479.70,377.10 L480.10,377.10 L480.50,377.10 L480.90,377.10 L481.30,377.10 L481.70,377.09 L482.10,376.62 L482.50,376.19 L482.90,376.10 L483.30,375.51 L483.70,374.58 L484.10,374.11 L484.50,373.32 L484.90,372.88 L485.30,373.20 L485.70,372.10 L486.10,370.59 L486.50,370.17 L486.90,369.13 L487.30,368.92 L487.70,369.69 L488.10,367.83 L488.50,365.79 L488.90,365.57 L489.30,364.33 L489.70,364.53 L490.10,365.66 L490.50,364.43 L490.90,363.98 L491.30,365.60 L491.70,366.10 L492.10,367.87 L492.50,369.67 L492.90,368.83 L493.30,368.93 L493.70,370.24 L494.10,370.78 L494.50,372.11 L494.90,373.18 L495.30,372.83 L495.70,373.22 L496.10,374.16 L496.50,374.67 L496.90,375.50 L497.30,376.08 L497.70,376.17 L498.10,376.60 L498.50,377.10 L498.90,377.10 L499.30,377.10 L499.70,377.10 L500.10,377.10 L500.50,377.10 L500.90,377.10 L501.30,377.10 L501.70,377.10 L502.10,377.10 L502.50,377.10 L502.90,377.10 L503.30,377.10 L503.70,377.10 L503.70,378.00Z " fill="#e80000"/>
<line x1="469.90" y1="378.30" x2="514.90" y2="378.30" stroke="#444" stroke-width="1"/>
<line x1="471.90" y1="378.30" x2="471.90" y2="379.60" stroke="#909090" stroke-width="0.6"/>
<line x1="479.40" y1="378.30" x2="479.40" y2="379.60" stroke="#909090" stroke-width="0.6"/>
<line x1="490.40" y1="378.30" x2="490.40" y2="379.60" stroke="#909090" stroke-width="0.6"/>
<line x1="499.00" y1="378.30" x2="499.00" y2="379.60" stroke="#909090" stroke-width="0.6"/>
<line x1="509.40" y1="378.30" x2="509.40" y2="379.60" stroke="#909090" stroke-width="0.6"/>
<text x="471.90" y="382.00" font-size="2.8" fill="#999" text-anchor="middle">0</text>
<text x="479.40" y="382.00" font-size="2.8" fill="#999" text-anchor="middle">10²</text>
<text x="490.40" y="382.00" font-size="2.8" fill="#999" text-anchor="middle">10³</text>
<text x="499.00" y="382.00" font-size="2.8" fill="#999" text-anchor="middle">10⁴</text>
<text x="509.40" y="382.00" font-size="2.8" fill="#999" text-anchor="middle">10⁵</text>
<text x="307.76" y="53.60" font-size="9.7" fill="#000" stroke="#000" stroke-width="0.3" font-weight="bold" textLength="19.58" lengthAdjust="spacingAndGlyphs" >MPL</text>
<text x="301.96" y="108.50" font-size="9.7" fill="#000" stroke="#000" stroke-width="0.3" font-weight="bold" textLength="25.48" lengthAdjust="spacingAndGlyphs" >R-848</text>
<text x="309.26" y="159.60" font-size="9.7" fill="#000" stroke="#000" stroke-width="0.3" font-weight="bold" textLength="18.08" lengthAdjust="spacingAndGlyphs" >CpG</text>
<text x="310.16" y="249.20" font-size="9.7" fill="#000" stroke="#000" stroke-width="0.3" font-weight="bold" textLength="18.88" lengthAdjust="spacingAndGlyphs" >MPL</text>
<text x="303.96" y="304.60" font-size="9.7" fill="#000" stroke="#000" stroke-width="0.3" font-weight="bold" textLength="25.08" lengthAdjust="spacingAndGlyphs" >R-848</text>
<text x="311.26" y="356.20" font-size="9.7" fill="#000" stroke="#000" stroke-width="0.3" font-weight="bold" textLength="18.48" lengthAdjust="spacingAndGlyphs" >CpG</text>
<text x="342.38" y="193.90" font-size="9.2" fill="#000" stroke="#000" stroke-width="0.3" font-weight="bold" textLength="20.44" lengthAdjust="spacingAndGlyphs" >CCR7</text>
<text x="387.28" y="193.90" font-size="9.2" fill="#000" stroke="#000" stroke-width="0.3" font-weight="bold" textLength="20.94" lengthAdjust="spacingAndGlyphs" >CCR5</text>
<text x="437.78" y="193.90" font-size="9.2" fill="#000" stroke="#000" stroke-width="0.3" font-weight="bold" textLength="21.34" lengthAdjust="spacingAndGlyphs" >CD80</text>
<text x="479.28" y="193.90" font-size="9.2" fill="#000" stroke="#000" stroke-width="0.3" font-weight="bold" textLength="21.74" lengthAdjust="spacingAndGlyphs" >CD86</text>
<text x="342.48" y="392.80" font-size="9.2" fill="#000" stroke="#000" stroke-width="0.3" font-weight="bold" textLength="20.54" lengthAdjust="spacingAndGlyphs" >CCR7</text>
<text x="387.48" y="392.80" font-size="9.2" fill="#000" stroke="#000" stroke-width="0.3" font-weight="bold" textLength="20.04" lengthAdjust="spacingAndGlyphs" >CCR5</text>
<text x="437.98" y="392.80" font-size="9.2" fill="#000" stroke="#000" stroke-width="0.3" font-weight="bold" textLength="20.64" lengthAdjust="spacingAndGlyphs" >CD80</text>
<text x="479.78" y="392.80" font-size="9.2" fill="#000" stroke="#000" stroke-width="0.3" font-weight="bold" textLength="21.24" lengthAdjust="spacingAndGlyphs" >CD86</text>
<rect x="467.8" y="405.50" width="11.1" height="4.0" fill="#8a8a8a"/>
<rect x="467.8" y="413.60" width="11.1" height="4.0" fill="#000"/>
<rect x="467.8" y="421.20" width="11.1" height="4.0" fill="#14b014"/>
<rect x="467.8" y="429.30" width="11.1" height="4.0" fill="#e80000"/>
<text x="483.02" y="408.60" font-size="7.6" fill="#000" stroke="#000" stroke-width="0.25" font-weight="bold" textLength="26.26" lengthAdjust="spacingAndGlyphs" >isotype</text>
<text x="483.02" y="417.40" font-size="7.6" fill="#000" stroke="#000" stroke-width="0.25" font-weight="bold" textLength="30.36" lengthAdjust="spacingAndGlyphs" >baseline</text>
<text x="483.02" y="424.50" font-size="7.6" fill="#000" stroke="#000" stroke-width="0.25" font-weight="bold" textLength="18.56" lengthAdjust="spacingAndGlyphs" >day 1</text>
<text x="483.02" y="432.30" font-size="7.6" fill="#000" stroke="#000" stroke-width="0.25" font-weight="bold" textLength="18.96" lengthAdjust="spacingAndGlyphs" >day 3</text></svg></div></body></html>
